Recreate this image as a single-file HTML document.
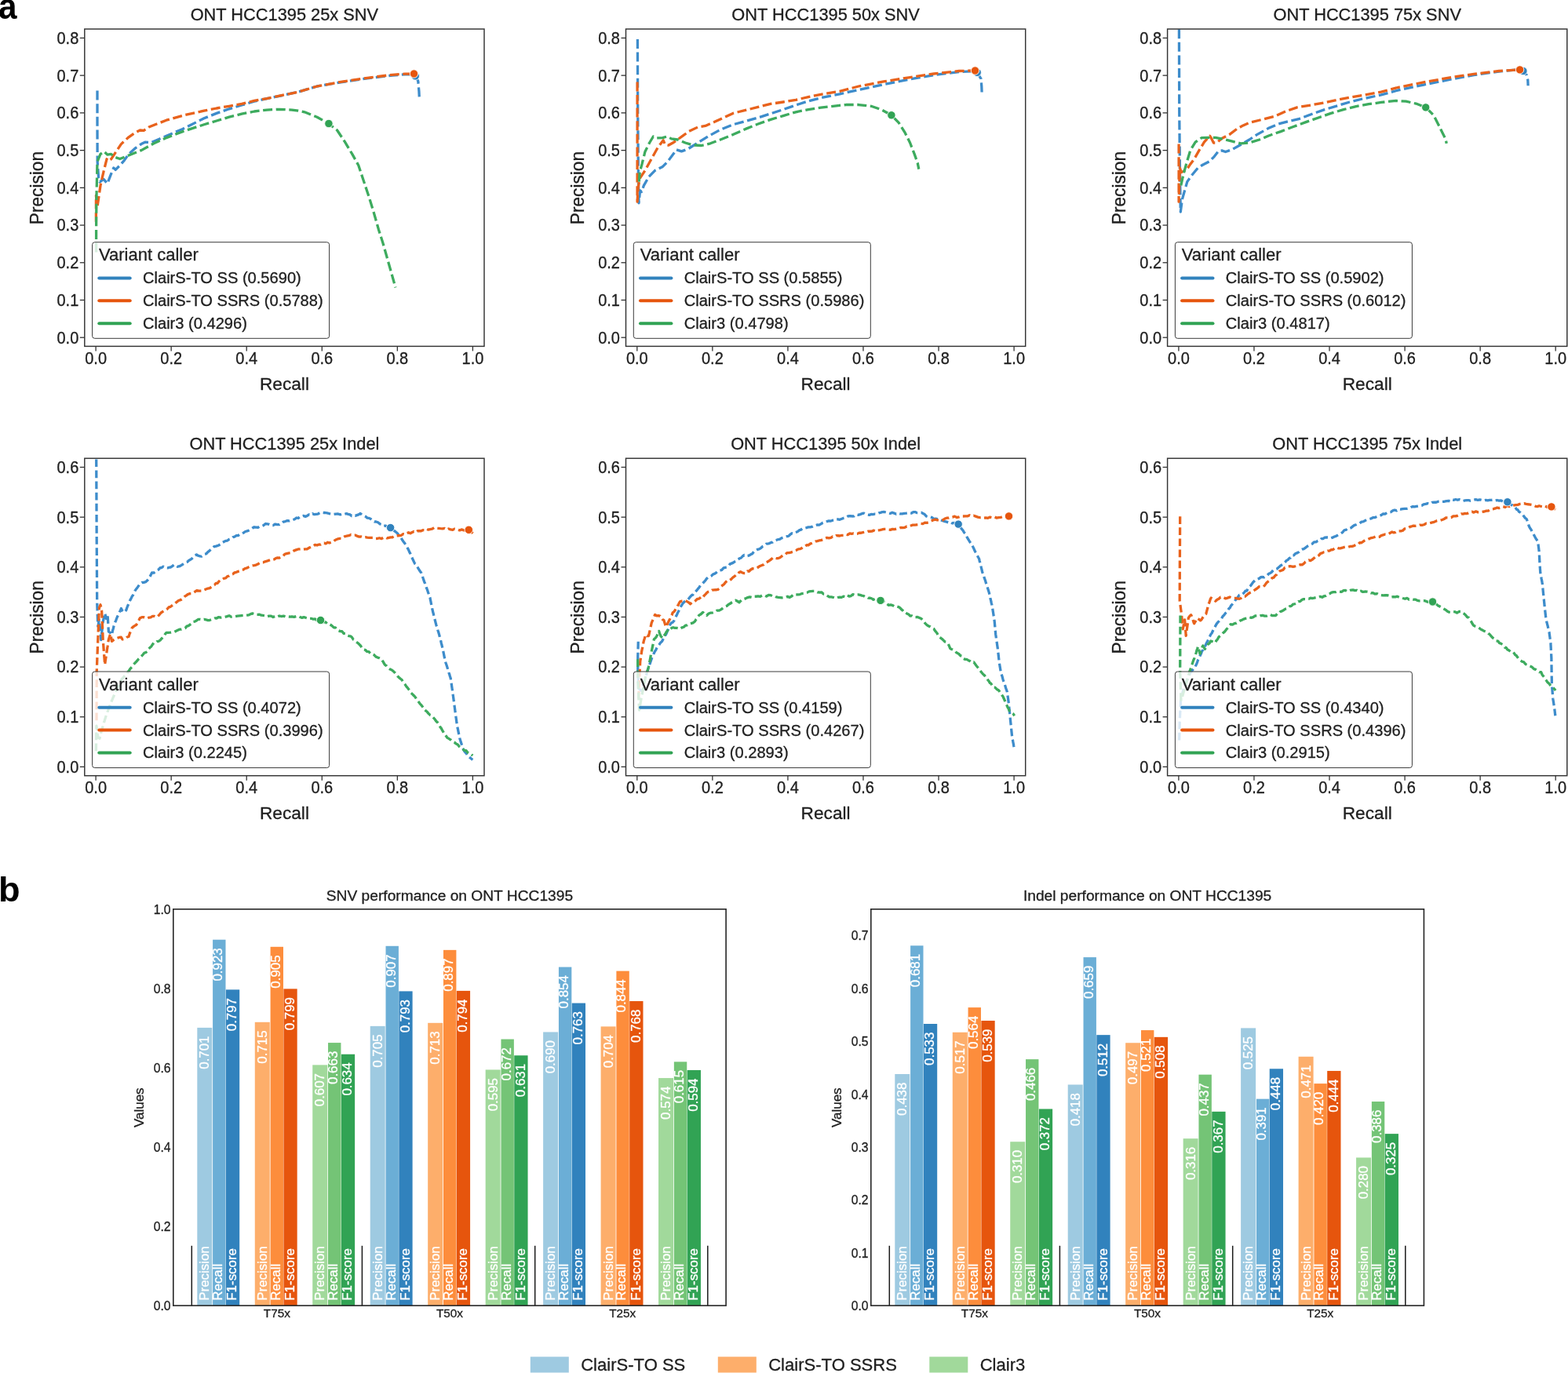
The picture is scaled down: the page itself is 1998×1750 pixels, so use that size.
<!DOCTYPE html>
<html lang="en">
<head>
<meta charset="utf-8">
<title>ClairS-TO ONT HCC1395 benchmark</title>
<style>
html,body{margin:0;padding:0;background:#ffffff;}
body{width:1998px;height:1750px;overflow:hidden;}
svg{display:block;}
text{white-space:pre;}
</style>
</head>
<body>
<svg width="1998" height="1750" viewBox="0 0 1998 1750" font-family='"Liberation Sans", Arial, Helvetica, sans-serif'>
<rect x="0" y="0" width="1998" height="1750" fill="#ffffff"/>
<clipPath id="cl00"><rect x="107.8" y="37" width="509.2" height="404.4"/></clipPath>
<polyline points="124,115.6 124,158 124.16,206 125.6,226.8 127.2,231.92 132,228.4 136.8,234 140.8,223.6 144.8,214 147.2,216.4 152.8,210.8 158.4,204.4 164,196.4 172,189.2 180,183.6 184.8,181.2 192.8,181.68 202.4,177.52 212,173.2 232.8,164.4 260,150.8 276,144.4 292,138.8 308,134 324,129.2 340,125.68 360,121.52 380,117.2 404,110 436,104.56 468,99.92 500,96.08 516,94.8 524,94.8 529.28,96.88 532.8,103.6 533.92,116.4 534.4,126" fill="none" stroke="#3d8ccb" stroke-width="3.3" stroke-dasharray="12.0 4.6" stroke-linejoin="round" clip-path="url(#cl00)"/>
<polyline points="122.4,282.8 122.4,249.2 124,263.6 125.92,250.8 128,236.4 132,218.8 136,202.8 138.4,205.2 141.6,202.8 148,193.2 154.4,183.6 164,174.8 172,169.2 178.4,166 183.2,166.32 189.6,162 212,153.2 236,146.48 260,141.2 276,138 292,135.28 308,132.4 324,128.4 340,125.52 380,117.2 404,110 436,104.08 468,99.28 500,95.28 516,94.16 527.52,94" fill="none" stroke="#e8621c" stroke-width="3.3" stroke-dasharray="12.0 4.6" stroke-linejoin="round" clip-path="url(#cl00)"/>
<polyline points="122.6,321.5 122.6,290 122.88,254 124,206 128,196.4 132.8,193.2 136.8,197.2 141.6,196.4 146.4,200.4 152.8,202.48 164,198 180,191.6 196,182.8 212,175.6 232.8,167.6 260,158.8 276,154 292,149.2 308,145.2 324,142 340,140.08 356,139.28 372,140.08 380,141.2 388,142.8 404,149.2 418.88,157.52 429.6,166 439.2,180.4 448.8,196.4 456.8,210.8 463.2,230 469.6,249.2 476,270 482.4,292.4 488,310 504,366.5" fill="none" stroke="#3dab5e" stroke-width="3.3" stroke-dasharray="12.0 4.6" stroke-linejoin="round" clip-path="url(#cl00)"/>
<circle cx="529.3" cy="96.9" r="5.2" fill="#3182bd" stroke="#ffffff" stroke-width="0.9"/>
<circle cx="527.5" cy="94" r="5.2" fill="#e6550d" stroke="#ffffff" stroke-width="0.9"/>
<circle cx="418.9" cy="157.5" r="5.2" fill="#31a354" stroke="#ffffff" stroke-width="0.9"/>
<rect x="117.6" y="308.7" width="302" height="122.6" rx="3.1" fill="#ffffff" fill-opacity="0.8" stroke="#3a3a3a" stroke-width="1.0"/>
<text font-size="22" text-anchor="start" fill="#202020" stroke="#202020" stroke-width="0.3" stroke-linejoin="round" transform="translate(126 332.2)">Variant caller</text>
<line x1="126.3" y1="354.4" x2="165.7" y2="354.4" stroke="#3182bd" stroke-width="4.0" stroke-linecap="round"/>
<text font-size="20.1" text-anchor="start" fill="#202020" stroke="#202020" stroke-width="0.3" stroke-linejoin="round" transform="translate(182 361.3)">ClairS-TO SS (0.5690)</text>
<line x1="126.3" y1="383.3" x2="165.7" y2="383.3" stroke="#e6550d" stroke-width="4.0" stroke-linecap="round"/>
<text font-size="20.1" text-anchor="start" fill="#202020" stroke="#202020" stroke-width="0.3" stroke-linejoin="round" transform="translate(182 390.2)">ClairS-TO SSRS (0.5788)</text>
<line x1="126.3" y1="412.2" x2="165.7" y2="412.2" stroke="#31a354" stroke-width="4.0" stroke-linecap="round"/>
<text font-size="20.1" text-anchor="start" fill="#202020" stroke="#202020" stroke-width="0.3" stroke-linejoin="round" transform="translate(182 419.1)">Clair3 (0.4296)</text>
<rect x="107.8" y="37" width="509.2" height="404.4" fill="none" stroke="#333333" stroke-width="1.45"/>
<line x1="122.1" y1="441.4" x2="122.1" y2="447.4" stroke="#333333" stroke-width="1.3"/>
<text font-size="20" text-anchor="middle" fill="#202020" stroke="#202020" stroke-width="0.3" stroke-linejoin="round" transform="translate(122.1 463.6) scale(1 1.06)">0.0</text>
<line x1="218.16" y1="441.4" x2="218.16" y2="447.4" stroke="#333333" stroke-width="1.3"/>
<text font-size="20" text-anchor="middle" fill="#202020" stroke="#202020" stroke-width="0.3" stroke-linejoin="round" transform="translate(218.16 463.6) scale(1 1.06)">0.2</text>
<line x1="314.22" y1="441.4" x2="314.22" y2="447.4" stroke="#333333" stroke-width="1.3"/>
<text font-size="20" text-anchor="middle" fill="#202020" stroke="#202020" stroke-width="0.3" stroke-linejoin="round" transform="translate(314.22 463.6) scale(1 1.06)">0.4</text>
<line x1="410.28" y1="441.4" x2="410.28" y2="447.4" stroke="#333333" stroke-width="1.3"/>
<text font-size="20" text-anchor="middle" fill="#202020" stroke="#202020" stroke-width="0.3" stroke-linejoin="round" transform="translate(410.28 463.6) scale(1 1.06)">0.6</text>
<line x1="506.34" y1="441.4" x2="506.34" y2="447.4" stroke="#333333" stroke-width="1.3"/>
<text font-size="20" text-anchor="middle" fill="#202020" stroke="#202020" stroke-width="0.3" stroke-linejoin="round" transform="translate(506.34 463.6) scale(1 1.06)">0.8</text>
<line x1="602.4" y1="441.4" x2="602.4" y2="447.4" stroke="#333333" stroke-width="1.3"/>
<text font-size="20" text-anchor="middle" fill="#202020" stroke="#202020" stroke-width="0.3" stroke-linejoin="round" transform="translate(602.4 463.6) scale(1 1.06)">1.0</text>
<line x1="101.8" y1="430.2" x2="107.8" y2="430.2" stroke="#333333" stroke-width="1.3"/>
<text font-size="20" text-anchor="end" fill="#202020" stroke="#202020" stroke-width="0.3" stroke-linejoin="round" transform="translate(100.3 437.55) scale(1 1.06)">0.0</text>
<line x1="101.8" y1="382.48" x2="107.8" y2="382.48" stroke="#333333" stroke-width="1.3"/>
<text font-size="20" text-anchor="end" fill="#202020" stroke="#202020" stroke-width="0.3" stroke-linejoin="round" transform="translate(100.3 389.83) scale(1 1.06)">0.1</text>
<line x1="101.8" y1="334.76" x2="107.8" y2="334.76" stroke="#333333" stroke-width="1.3"/>
<text font-size="20" text-anchor="end" fill="#202020" stroke="#202020" stroke-width="0.3" stroke-linejoin="round" transform="translate(100.3 342.11) scale(1 1.06)">0.2</text>
<line x1="101.8" y1="287.04" x2="107.8" y2="287.04" stroke="#333333" stroke-width="1.3"/>
<text font-size="20" text-anchor="end" fill="#202020" stroke="#202020" stroke-width="0.3" stroke-linejoin="round" transform="translate(100.3 294.39) scale(1 1.06)">0.3</text>
<line x1="101.8" y1="239.32" x2="107.8" y2="239.32" stroke="#333333" stroke-width="1.3"/>
<text font-size="20" text-anchor="end" fill="#202020" stroke="#202020" stroke-width="0.3" stroke-linejoin="round" transform="translate(100.3 246.67) scale(1 1.06)">0.4</text>
<line x1="101.8" y1="191.6" x2="107.8" y2="191.6" stroke="#333333" stroke-width="1.3"/>
<text font-size="20" text-anchor="end" fill="#202020" stroke="#202020" stroke-width="0.3" stroke-linejoin="round" transform="translate(100.3 198.95) scale(1 1.06)">0.5</text>
<line x1="101.8" y1="143.88" x2="107.8" y2="143.88" stroke="#333333" stroke-width="1.3"/>
<text font-size="20" text-anchor="end" fill="#202020" stroke="#202020" stroke-width="0.3" stroke-linejoin="round" transform="translate(100.3 151.23) scale(1 1.06)">0.6</text>
<line x1="101.8" y1="96.16" x2="107.8" y2="96.16" stroke="#333333" stroke-width="1.3"/>
<text font-size="20" text-anchor="end" fill="#202020" stroke="#202020" stroke-width="0.3" stroke-linejoin="round" transform="translate(100.3 103.51) scale(1 1.06)">0.7</text>
<line x1="101.8" y1="48.44" x2="107.8" y2="48.44" stroke="#333333" stroke-width="1.3"/>
<text font-size="20" text-anchor="end" fill="#202020" stroke="#202020" stroke-width="0.3" stroke-linejoin="round" transform="translate(100.3 55.79) scale(1 1.06)">0.8</text>
<text font-size="21.8" text-anchor="middle" fill="#202020" stroke="#202020" stroke-width="0.3" stroke-linejoin="round" transform="translate(362.4 26.15)">ONT HCC1395 25x SNV</text>
<text font-size="22.7" text-anchor="middle" fill="#202020" stroke="#202020" stroke-width="0.3" stroke-linejoin="round" transform="translate(362.4 496.9)">Recall</text>
<text font-size="22.7" text-anchor="middle" fill="#202020" stroke="#202020" stroke-width="0.3" stroke-linejoin="round" transform="translate(54.5 239.6) rotate(-90) scale(1 1.04)">Precision</text>
<clipPath id="cl01"><rect x="797.5" y="37" width="509.2" height="404.4"/></clipPath>
<polyline points="812.4,50 812.72,142 813.36,222 814,258.8 815.6,242.8 817.52,244.4 820.4,236.4 826.8,225.2 834.8,217.2 844.4,212.4 850.8,206 862,190.8 868.4,192.88 876.4,190 889.2,182 902,174 918,165.2 934,158.8 950,154.48 966,150 982,144.88 998,139.6 1014,134 1030,128.88 1046,124.72 1070,119.92 1094,114.48 1126,107.6 1158,101.2 1190,95.6 1222,91.6 1238,90.8 1245.2,92.4 1250,100.4 1250.8,110 1251.12,118" fill="none" stroke="#3d8ccb" stroke-width="3.3" stroke-dasharray="12.0 4.6" stroke-linejoin="round" clip-path="url(#cl01)"/>
<polyline points="812.08,104.4 812.08,174 812.08,257.2 813.2,238 815.6,226.8 822,217.2 830,202.8 838,188.4 845.2,178.8 847.6,184.4 851.6,185.2 858.8,181.2 870,173.2 878,167.28 889.2,162 898.8,160.4 910,155.6 934,144.4 950,140.4 966,136.4 982,132.4 998,130 1014,127.28 1030,123.6 1046,120.4 1070,116.4 1094,110 1126,103.92 1158,98.8 1190,94 1222,90.48 1242.48,90" fill="none" stroke="#e8621c" stroke-width="3.3" stroke-dasharray="12.0 4.6" stroke-linejoin="round" clip-path="url(#cl01)"/>
<polyline points="814.32,231.6 815.28,218.8 818,209.2 822,193.2 827.6,182 832.4,174 836.4,175.92 844.4,175.6 850,174 855.6,176.88 863.6,178 873.2,182 882.8,184.88 894,185.52 905.2,182.8 918,178 934,171.6 950,164.4 966,158 982,152.4 998,147.6 1014,142.8 1030,139.6 1046,137.2 1070,134.32 1078,133.52 1094,133.52 1110,135.28 1122.8,139.6 1135.92,146.8 1145.2,156.4 1153.2,169.2 1159.6,182 1165.2,196.4 1169.2,207.6 1170.8,215.6" fill="none" stroke="#3dab5e" stroke-width="3.3" stroke-dasharray="12.0 4.6" stroke-linejoin="round" clip-path="url(#cl01)"/>
<circle cx="1245.2" cy="92.4" r="5.2" fill="#3182bd" stroke="#ffffff" stroke-width="0.9"/>
<circle cx="1242.5" cy="90" r="5.2" fill="#e6550d" stroke="#ffffff" stroke-width="0.9"/>
<circle cx="1135.9" cy="146.8" r="5.2" fill="#31a354" stroke="#ffffff" stroke-width="0.9"/>
<rect x="807.3" y="308.7" width="302" height="122.6" rx="3.1" fill="#ffffff" fill-opacity="0.8" stroke="#3a3a3a" stroke-width="1.0"/>
<text font-size="22" text-anchor="start" fill="#202020" stroke="#202020" stroke-width="0.3" stroke-linejoin="round" transform="translate(815.7 332.2)">Variant caller</text>
<line x1="816" y1="354.4" x2="855.4" y2="354.4" stroke="#3182bd" stroke-width="4.0" stroke-linecap="round"/>
<text font-size="20.1" text-anchor="start" fill="#202020" stroke="#202020" stroke-width="0.3" stroke-linejoin="round" transform="translate(871.7 361.3)">ClairS-TO SS (0.5855)</text>
<line x1="816" y1="383.3" x2="855.4" y2="383.3" stroke="#e6550d" stroke-width="4.0" stroke-linecap="round"/>
<text font-size="20.1" text-anchor="start" fill="#202020" stroke="#202020" stroke-width="0.3" stroke-linejoin="round" transform="translate(871.7 390.2)">ClairS-TO SSRS (0.5986)</text>
<line x1="816" y1="412.2" x2="855.4" y2="412.2" stroke="#31a354" stroke-width="4.0" stroke-linecap="round"/>
<text font-size="20.1" text-anchor="start" fill="#202020" stroke="#202020" stroke-width="0.3" stroke-linejoin="round" transform="translate(871.7 419.1)">Clair3 (0.4798)</text>
<rect x="797.5" y="37" width="509.2" height="404.4" fill="none" stroke="#333333" stroke-width="1.45"/>
<line x1="811.8" y1="441.4" x2="811.8" y2="447.4" stroke="#333333" stroke-width="1.3"/>
<text font-size="20" text-anchor="middle" fill="#202020" stroke="#202020" stroke-width="0.3" stroke-linejoin="round" transform="translate(811.8 463.6) scale(1 1.06)">0.0</text>
<line x1="907.86" y1="441.4" x2="907.86" y2="447.4" stroke="#333333" stroke-width="1.3"/>
<text font-size="20" text-anchor="middle" fill="#202020" stroke="#202020" stroke-width="0.3" stroke-linejoin="round" transform="translate(907.86 463.6) scale(1 1.06)">0.2</text>
<line x1="1003.92" y1="441.4" x2="1003.92" y2="447.4" stroke="#333333" stroke-width="1.3"/>
<text font-size="20" text-anchor="middle" fill="#202020" stroke="#202020" stroke-width="0.3" stroke-linejoin="round" transform="translate(1003.92 463.6) scale(1 1.06)">0.4</text>
<line x1="1099.98" y1="441.4" x2="1099.98" y2="447.4" stroke="#333333" stroke-width="1.3"/>
<text font-size="20" text-anchor="middle" fill="#202020" stroke="#202020" stroke-width="0.3" stroke-linejoin="round" transform="translate(1099.98 463.6) scale(1 1.06)">0.6</text>
<line x1="1196.04" y1="441.4" x2="1196.04" y2="447.4" stroke="#333333" stroke-width="1.3"/>
<text font-size="20" text-anchor="middle" fill="#202020" stroke="#202020" stroke-width="0.3" stroke-linejoin="round" transform="translate(1196.04 463.6) scale(1 1.06)">0.8</text>
<line x1="1292.1" y1="441.4" x2="1292.1" y2="447.4" stroke="#333333" stroke-width="1.3"/>
<text font-size="20" text-anchor="middle" fill="#202020" stroke="#202020" stroke-width="0.3" stroke-linejoin="round" transform="translate(1292.1 463.6) scale(1 1.06)">1.0</text>
<line x1="791.5" y1="430.2" x2="797.5" y2="430.2" stroke="#333333" stroke-width="1.3"/>
<text font-size="20" text-anchor="end" fill="#202020" stroke="#202020" stroke-width="0.3" stroke-linejoin="round" transform="translate(790 437.55) scale(1 1.06)">0.0</text>
<line x1="791.5" y1="382.48" x2="797.5" y2="382.48" stroke="#333333" stroke-width="1.3"/>
<text font-size="20" text-anchor="end" fill="#202020" stroke="#202020" stroke-width="0.3" stroke-linejoin="round" transform="translate(790 389.83) scale(1 1.06)">0.1</text>
<line x1="791.5" y1="334.76" x2="797.5" y2="334.76" stroke="#333333" stroke-width="1.3"/>
<text font-size="20" text-anchor="end" fill="#202020" stroke="#202020" stroke-width="0.3" stroke-linejoin="round" transform="translate(790 342.11) scale(1 1.06)">0.2</text>
<line x1="791.5" y1="287.04" x2="797.5" y2="287.04" stroke="#333333" stroke-width="1.3"/>
<text font-size="20" text-anchor="end" fill="#202020" stroke="#202020" stroke-width="0.3" stroke-linejoin="round" transform="translate(790 294.39) scale(1 1.06)">0.3</text>
<line x1="791.5" y1="239.32" x2="797.5" y2="239.32" stroke="#333333" stroke-width="1.3"/>
<text font-size="20" text-anchor="end" fill="#202020" stroke="#202020" stroke-width="0.3" stroke-linejoin="round" transform="translate(790 246.67) scale(1 1.06)">0.4</text>
<line x1="791.5" y1="191.6" x2="797.5" y2="191.6" stroke="#333333" stroke-width="1.3"/>
<text font-size="20" text-anchor="end" fill="#202020" stroke="#202020" stroke-width="0.3" stroke-linejoin="round" transform="translate(790 198.95) scale(1 1.06)">0.5</text>
<line x1="791.5" y1="143.88" x2="797.5" y2="143.88" stroke="#333333" stroke-width="1.3"/>
<text font-size="20" text-anchor="end" fill="#202020" stroke="#202020" stroke-width="0.3" stroke-linejoin="round" transform="translate(790 151.23) scale(1 1.06)">0.6</text>
<line x1="791.5" y1="96.16" x2="797.5" y2="96.16" stroke="#333333" stroke-width="1.3"/>
<text font-size="20" text-anchor="end" fill="#202020" stroke="#202020" stroke-width="0.3" stroke-linejoin="round" transform="translate(790 103.51) scale(1 1.06)">0.7</text>
<line x1="791.5" y1="48.44" x2="797.5" y2="48.44" stroke="#333333" stroke-width="1.3"/>
<text font-size="20" text-anchor="end" fill="#202020" stroke="#202020" stroke-width="0.3" stroke-linejoin="round" transform="translate(790 55.79) scale(1 1.06)">0.8</text>
<text font-size="21.8" text-anchor="middle" fill="#202020" stroke="#202020" stroke-width="0.3" stroke-linejoin="round" transform="translate(1052.1 26.15)">ONT HCC1395 50x SNV</text>
<text font-size="22.7" text-anchor="middle" fill="#202020" stroke="#202020" stroke-width="0.3" stroke-linejoin="round" transform="translate(1052.1 496.9)">Recall</text>
<text font-size="22.7" text-anchor="middle" fill="#202020" stroke="#202020" stroke-width="0.3" stroke-linejoin="round" transform="translate(744.2 239.6) rotate(-90) scale(1 1.04)">Precision</text>
<clipPath id="cl02"><rect x="1487.6" y="37" width="509.2" height="404.4"/></clipPath>
<polyline points="1502.4,37.2 1502.72,142 1503.52,222 1504.32,270 1506.4,254 1509.6,242.8 1512.8,231.6 1518.4,223.6 1526.4,214 1532.8,210 1540.8,206 1547.2,199.6 1552.8,192.4 1556.8,191.92 1561.6,193.52 1569.6,190.8 1582.4,183.6 1592,178 1601.6,171.6 1616,163.6 1628.8,158 1640,155.12 1656,151.28 1672,145.2 1688,139.6 1704,134.8 1720,130 1736,126 1760,120.88 1782,114.8 1814,108.08 1846,101.68 1878,95.6 1910,91.12 1930.8,89.2 1940.88,90.48 1945.2,95.6 1946.8,102 1947.12,109.2" fill="none" stroke="#3d8ccb" stroke-width="3.3" stroke-dasharray="12.0 4.6" stroke-linejoin="round" clip-path="url(#cl02)"/>
<polyline points="1502.08,183.6 1502.08,257.2 1503.36,214 1505.28,219.6 1507.2,218.8 1512,216.4 1516.8,209.2 1521.6,202.8 1528,191.6 1534.4,181.2 1541.6,173.2 1544,177.2 1546.4,182 1550.4,182 1556.8,176.4 1566.4,171.6 1576,164.4 1584,159.92 1592,156.4 1608,152.4 1624,148.4 1640,141.2 1652.8,136.88 1672,133.68 1688,130.8 1704,127.28 1720,124.08 1736,121.52 1760,117.2 1782,111.28 1814,104.88 1846,99.12 1878,94.32 1910,90.48 1936.56,88.88" fill="none" stroke="#e8621c" stroke-width="3.3" stroke-dasharray="12.0 4.6" stroke-linejoin="round" clip-path="url(#cl02)"/>
<polyline points="1504.8,236.4 1508,222 1512,207.6 1516.8,191.6 1523.2,181.2 1531.2,175.6 1539.2,175.28 1548.8,175.28 1560,177.52 1571.2,180.4 1580.8,182.8 1592,182 1604.8,178 1616,173.2 1632,167.6 1648,161.52 1664,155.6 1680,150 1696,144.4 1712,139.6 1728,135.6 1744,132.72 1760,130.48 1778.8,128.4 1791.6,129.2 1804.4,132.08 1816.72,136.88 1826.8,146.8 1833.2,159.6 1838,169.2 1842,177.2 1843.28,182.8" fill="none" stroke="#3dab5e" stroke-width="3.3" stroke-dasharray="12.0 4.6" stroke-linejoin="round" clip-path="url(#cl02)"/>
<circle cx="1940.9" cy="90.5" r="5.2" fill="#3182bd" stroke="#ffffff" stroke-width="0.9"/>
<circle cx="1936.6" cy="88.9" r="5.2" fill="#e6550d" stroke="#ffffff" stroke-width="0.9"/>
<circle cx="1816.7" cy="136.9" r="5.2" fill="#31a354" stroke="#ffffff" stroke-width="0.9"/>
<rect x="1497.4" y="308.7" width="302" height="122.6" rx="3.1" fill="#ffffff" fill-opacity="0.8" stroke="#3a3a3a" stroke-width="1.0"/>
<text font-size="22" text-anchor="start" fill="#202020" stroke="#202020" stroke-width="0.3" stroke-linejoin="round" transform="translate(1505.8 332.2)">Variant caller</text>
<line x1="1506.1" y1="354.4" x2="1545.5" y2="354.4" stroke="#3182bd" stroke-width="4.0" stroke-linecap="round"/>
<text font-size="20.1" text-anchor="start" fill="#202020" stroke="#202020" stroke-width="0.3" stroke-linejoin="round" transform="translate(1561.8 361.3)">ClairS-TO SS (0.5902)</text>
<line x1="1506.1" y1="383.3" x2="1545.5" y2="383.3" stroke="#e6550d" stroke-width="4.0" stroke-linecap="round"/>
<text font-size="20.1" text-anchor="start" fill="#202020" stroke="#202020" stroke-width="0.3" stroke-linejoin="round" transform="translate(1561.8 390.2)">ClairS-TO SSRS (0.6012)</text>
<line x1="1506.1" y1="412.2" x2="1545.5" y2="412.2" stroke="#31a354" stroke-width="4.0" stroke-linecap="round"/>
<text font-size="20.1" text-anchor="start" fill="#202020" stroke="#202020" stroke-width="0.3" stroke-linejoin="round" transform="translate(1561.8 419.1)">Clair3 (0.4817)</text>
<rect x="1487.6" y="37" width="509.2" height="404.4" fill="none" stroke="#333333" stroke-width="1.45"/>
<line x1="1501.9" y1="441.4" x2="1501.9" y2="447.4" stroke="#333333" stroke-width="1.3"/>
<text font-size="20" text-anchor="middle" fill="#202020" stroke="#202020" stroke-width="0.3" stroke-linejoin="round" transform="translate(1501.9 463.6) scale(1 1.06)">0.0</text>
<line x1="1597.96" y1="441.4" x2="1597.96" y2="447.4" stroke="#333333" stroke-width="1.3"/>
<text font-size="20" text-anchor="middle" fill="#202020" stroke="#202020" stroke-width="0.3" stroke-linejoin="round" transform="translate(1597.96 463.6) scale(1 1.06)">0.2</text>
<line x1="1694.02" y1="441.4" x2="1694.02" y2="447.4" stroke="#333333" stroke-width="1.3"/>
<text font-size="20" text-anchor="middle" fill="#202020" stroke="#202020" stroke-width="0.3" stroke-linejoin="round" transform="translate(1694.02 463.6) scale(1 1.06)">0.4</text>
<line x1="1790.08" y1="441.4" x2="1790.08" y2="447.4" stroke="#333333" stroke-width="1.3"/>
<text font-size="20" text-anchor="middle" fill="#202020" stroke="#202020" stroke-width="0.3" stroke-linejoin="round" transform="translate(1790.08 463.6) scale(1 1.06)">0.6</text>
<line x1="1886.14" y1="441.4" x2="1886.14" y2="447.4" stroke="#333333" stroke-width="1.3"/>
<text font-size="20" text-anchor="middle" fill="#202020" stroke="#202020" stroke-width="0.3" stroke-linejoin="round" transform="translate(1886.14 463.6) scale(1 1.06)">0.8</text>
<line x1="1982.2" y1="441.4" x2="1982.2" y2="447.4" stroke="#333333" stroke-width="1.3"/>
<text font-size="20" text-anchor="middle" fill="#202020" stroke="#202020" stroke-width="0.3" stroke-linejoin="round" transform="translate(1982.2 463.6) scale(1 1.06)">1.0</text>
<line x1="1481.6" y1="430.2" x2="1487.6" y2="430.2" stroke="#333333" stroke-width="1.3"/>
<text font-size="20" text-anchor="end" fill="#202020" stroke="#202020" stroke-width="0.3" stroke-linejoin="round" transform="translate(1480.1 437.55) scale(1 1.06)">0.0</text>
<line x1="1481.6" y1="382.48" x2="1487.6" y2="382.48" stroke="#333333" stroke-width="1.3"/>
<text font-size="20" text-anchor="end" fill="#202020" stroke="#202020" stroke-width="0.3" stroke-linejoin="round" transform="translate(1480.1 389.83) scale(1 1.06)">0.1</text>
<line x1="1481.6" y1="334.76" x2="1487.6" y2="334.76" stroke="#333333" stroke-width="1.3"/>
<text font-size="20" text-anchor="end" fill="#202020" stroke="#202020" stroke-width="0.3" stroke-linejoin="round" transform="translate(1480.1 342.11) scale(1 1.06)">0.2</text>
<line x1="1481.6" y1="287.04" x2="1487.6" y2="287.04" stroke="#333333" stroke-width="1.3"/>
<text font-size="20" text-anchor="end" fill="#202020" stroke="#202020" stroke-width="0.3" stroke-linejoin="round" transform="translate(1480.1 294.39) scale(1 1.06)">0.3</text>
<line x1="1481.6" y1="239.32" x2="1487.6" y2="239.32" stroke="#333333" stroke-width="1.3"/>
<text font-size="20" text-anchor="end" fill="#202020" stroke="#202020" stroke-width="0.3" stroke-linejoin="round" transform="translate(1480.1 246.67) scale(1 1.06)">0.4</text>
<line x1="1481.6" y1="191.6" x2="1487.6" y2="191.6" stroke="#333333" stroke-width="1.3"/>
<text font-size="20" text-anchor="end" fill="#202020" stroke="#202020" stroke-width="0.3" stroke-linejoin="round" transform="translate(1480.1 198.95) scale(1 1.06)">0.5</text>
<line x1="1481.6" y1="143.88" x2="1487.6" y2="143.88" stroke="#333333" stroke-width="1.3"/>
<text font-size="20" text-anchor="end" fill="#202020" stroke="#202020" stroke-width="0.3" stroke-linejoin="round" transform="translate(1480.1 151.23) scale(1 1.06)">0.6</text>
<line x1="1481.6" y1="96.16" x2="1487.6" y2="96.16" stroke="#333333" stroke-width="1.3"/>
<text font-size="20" text-anchor="end" fill="#202020" stroke="#202020" stroke-width="0.3" stroke-linejoin="round" transform="translate(1480.1 103.51) scale(1 1.06)">0.7</text>
<line x1="1481.6" y1="48.44" x2="1487.6" y2="48.44" stroke="#333333" stroke-width="1.3"/>
<text font-size="20" text-anchor="end" fill="#202020" stroke="#202020" stroke-width="0.3" stroke-linejoin="round" transform="translate(1480.1 55.79) scale(1 1.06)">0.8</text>
<text font-size="21.8" text-anchor="middle" fill="#202020" stroke="#202020" stroke-width="0.3" stroke-linejoin="round" transform="translate(1742.2 26.15)">ONT HCC1395 75x SNV</text>
<text font-size="22.7" text-anchor="middle" fill="#202020" stroke="#202020" stroke-width="0.3" stroke-linejoin="round" transform="translate(1742.2 496.9)">Recall</text>
<text font-size="22.7" text-anchor="middle" fill="#202020" stroke="#202020" stroke-width="0.3" stroke-linejoin="round" transform="translate(1434.3 239.6) rotate(-90) scale(1 1.04)">Precision</text>
<clipPath id="cl10"><rect x="107.8" y="584.2" width="509.2" height="404.5"/></clipPath>
<polyline points="122.72,585.4 122.73,587.88 122.74,590.35 122.76,592.84 122.77,595.31 122.78,597.79 122.79,600.26 122.8,602.74 122.81,605.22 122.83,607.7 122.84,610.17 122.85,612.66 122.86,615.13 122.87,617.62 122.88,620.1 122.9,622.58 122.91,625.04 122.92,627.52 122.93,630.01 122.94,632.48 122.95,634.96 122.97,637.44 122.98,639.91 122.99,642.39 123,644.87 123.01,647.35 123.02,649.83 123.04,652.31 123.05,654.78 123.06,657.27 123.07,659.75 123.08,662.22 123.09,664.7 123.11,667.17 123.12,669.66 123.13,672.13 123.14,674.61 123.15,677.09 123.16,679.56 123.18,682.04 123.19,684.53 123.2,687.01 123.22,689.49 123.23,692.01 123.25,694.49 123.26,697 123.28,699.5 123.29,701.99 123.31,704.5 123.32,707 123.34,709.49 123.35,711.99 123.37,714.5 123.38,717 123.4,719.5 123.41,721.99 123.43,724.5 123.44,727.01 123.45,729.5 123.47,732 123.48,734.5 123.5,737 123.52,739.5 123.53,741.99 123.55,744.49 123.56,747 123.58,749.5 123.59,751.99 123.61,754.51 123.62,757 123.64,759.5 123.65,762 123.67,764.51 123.68,767 123.77,769.48 123.85,771.88 123.94,774.41 124.02,776.85 124.11,779.29 124.2,781.76 124.28,784.27 124.37,786.74 124.46,789.13 124.54,791.65 124.63,794.06 124.71,796.54 124.8,798.21 125.2,796.54 125.6,794.2 126,791.62 126.4,790.13 126.64,792.02 126.88,794.62 127.12,797.08 127.36,799.56 127.6,802.17 127.84,804.65 128.08,807.32 128.32,809.87 128.56,812.38 128.8,815.5 129.07,812.56 129.33,810.16 129.6,807.51 129.87,805.07 130.13,802.46 130.4,800.04 130.67,797.64 130.93,795.04 131.2,792.71 131.68,790.37 132.16,787.95 132.64,785.68 133.12,783.42 133.6,781.6 134.13,783.39 134.67,785.57 135.2,788.5 136.16,785.02 137.12,782.95 137.26,785.52 137.4,787.93 137.55,790.54 137.69,793.02 137.83,795.47 137.97,797.88 138.12,800.39 138.26,802.87 138.4,805.14 140.4,806.32 142.4,809.24 143.04,806.19 143.68,803.21 144.32,801.18 144.96,798.38 145.6,796.08 146.6,793.24 147.6,791.26 148.6,788.29 149.6,785.91 150.56,784.15 151.52,782.22 152.48,779.87 153.44,778.17 154.4,775.48 156,778.71 157.6,780.49 159.2,779.5 160.8,777.65 161.76,774.74 162.72,772.22 163.68,770.12 164.64,768.04 165.6,765.36 166.88,763.19 168.16,760.34 169.44,758.61 170.72,755.65 172,753.07 173.6,750.68 175.2,748.65 176.8,746.36 178.4,744.08 180.8,742.5 183.2,742.35 185.6,741.63 188,739.57 189.4,737.93 190.8,735.46 192.2,732.76 193.6,729.92 196,730.21 198.4,728.16 200.27,726.67 202.13,725.93 204,723.75 206,723.53 208,722.06 210.8,723.75 213.6,723.89 215.6,723.19 217.6,722.99 219.6,721.66 221.6,719.93 224,720.66 226.4,722.26 228.8,721.71 231.2,720.36 233.12,719.13 235.04,717.9 236.96,716.64 238.88,716.17 240.8,714.16 242.72,713.23 244.64,711.85 246.56,709.72 248.48,708.28 250.4,706.9 252.53,708.25 254.67,708.86 256.8,709.22 258.8,707.56 260.8,706.25 262.8,705.89 264.8,703.64 266.8,702.16 268.8,700.23 270.8,698.75 272.8,696.56 275.47,696.08 278.13,695.22 280.8,693.88 283.04,691.68 285.28,690.51 287.52,689.38 289.76,689.03 292,687.42 294.29,686.78 296.57,684.75 298.86,684.05 301.14,682.57 303.43,682.58 305.71,680.85 308,680.33 310.29,679.12 312.57,677.48 314.86,676.91 317.14,675.91 319.43,674.76 321.71,673.06 324,671.77 326.4,672.06 328.8,672.26 331.2,670.87 333.6,670.63 336,669.55 338.4,667.51 340.8,667.91 343.2,668.33 345.6,669.66 348,669.64 350.67,668.04 353.33,668.71 356,668.7 358.56,667.07 361.12,665.03 363.68,664.58 366.24,663.57 368.8,663.87 371.04,663.16 373.28,662.56 375.52,661.8 377.76,659.99 380,660.5 382.29,658.36 384.57,658.09 386.86,657.43 389.14,658.38 391.43,657.44 393.71,655.81 396,656.43 398.29,654.67 400.57,655.66 402.86,655.28 405.14,655.02 407.43,653.75 409.71,653.22 412,653.48 414.4,653.5 416.8,653.94 419.6,654.51 422.4,654.97 425.2,655.47 428,655.04 430.8,655.02 433.6,655.9 436.4,654.98 439.2,655.26 441.44,654.61 443.68,655.33 445.92,655.92 448.16,657.56 450.4,656.87 452.6,657.37 454.8,656.61 457,655.86 459.2,654.5 461.4,656.34 463.6,657.24 465.8,658.31 468,660.1 470.24,660.35 472.48,661.52 474.72,663.38 476.96,664.89 479.2,665.02 481.6,665.77 484,667.82 486.4,668.44 488.8,670.5 491,670.03 493.2,671.06 495.4,672.33 497.6,672.54 499.36,673.84 501.12,675.54 502.88,676.92 504.64,678.25 506.4,679.71 508,681.91 509.6,684.11 511.2,685.86 512.8,688.52 514.4,690.73 515.68,692.38 516.96,694.33 518.24,696.7 519.52,698.87 520.8,701.34 521.87,703.92 522.93,705.76 524,708.51 525.07,710.79 526.13,713.34 527.2,715.49 528.57,718.37 529.94,719.68 531.31,721.43 532.69,724.02 534.06,726.23 535.43,728.29 536.8,730.16 537.6,732.28 538.4,734.46 539.2,737.31 540,739.63 540.8,741.98 541.6,743.55 542.4,746.07 543.2,748.76 544,750.49 544.8,752.7 545.6,755.21 546.4,757.51 547.2,760.1 548,761.99 548.46,764.66 548.91,766.55 549.37,769.19 549.83,771.55 550.29,773.73 550.74,775.86 551.2,777.94 551.77,780.29 552.34,782.49 552.91,785.29 553.49,787.35 554.06,789.54 554.63,791.78 555.2,794.1 555.89,796.7 556.57,798.62 557.26,800.82 557.94,803.42 558.63,805.5 559.31,807.93 560,810.29 560.57,812.75 561.14,814.72 561.71,816.85 562.29,819.59 562.86,821.72 563.43,824.16 564,826.33 564.46,828.4 564.91,830.75 565.37,833.04 565.83,835.4 566.29,837.6 566.74,839.72 567.2,841.94 567.97,844.79 568.75,847.02 569.52,849.35 570.3,851.89 571.07,854.73 571.85,857.19 572.62,859.32 573.4,861.93 574.17,864.18 574.51,866.74 574.86,869.04 575.2,871.3 575.54,873.77 575.89,876.21 576.23,878.51 576.57,881.05 576.91,883.52 577.26,886.15 577.6,888.51 577.94,891.08 578.29,893.56 578.63,896.18 578.97,898.73 579.31,901.41 579.66,904.07 580,906.7 580.34,909.24 580.69,911.88 581.03,914.36 581.37,916.78 581.71,919.52 582.06,921.94 582.4,924.69 582.89,926.97 583.38,929.14 583.87,931.56 584.36,934.21 584.85,936.45 585.34,938.47 585.83,941.29 586.63,943.69 587.43,946.36 588.23,948.7 589.03,951.28 589.83,953.51 590.63,955.7 592,957.93 593.37,959.41 594.74,960.97 596.11,963.53 598.17,965.1 600.23,966.77 602.29,968.46" fill="none" stroke="#3d8ccb" stroke-width="3.3" stroke-dasharray="9.7 4.4" stroke-linejoin="round" clip-path="url(#cl10)"/>
<polyline points="123.01,918.29 123.02,915.77 123.03,913.26 123.04,910.74 123.05,908.23 123.06,905.72 123.07,903.2 123.08,900.68 123.09,898.17 123.1,895.66 123.11,893.14 123.12,890.63 123.13,888.12 123.14,885.61 123.15,883.09 123.16,880.57 123.17,878.06 123.18,875.54 123.19,873.03 123.2,870.51 123.21,868 123.22,865.49 123.23,862.97 123.24,860.46 123.25,857.94 123.26,855.45 123.35,852.86 123.45,850.42 123.55,847.9 123.64,845.36 123.74,842.83 123.84,840.3 123.93,837.71 124.03,835.2 124.12,832.71 124.22,830.12 124.32,827.66 124.41,825.06 124.51,822.59 124.61,820.1 124.7,817.56 124.8,814.95 124.9,812.48 125,809.98 125.1,807.47 125.2,805.02 125.3,802.46 125.4,800.05 125.5,797.53 125.6,795.02 125.7,792.52 125.8,789.96 125.9,787.49 126,785.03 126.1,782.53 126.2,779.97 126.3,777.46 126.4,774.87 127.2,772.79 128,770.83 128.53,772.87 129.07,775.7 129.6,778.31 129.71,780.62 129.81,783.08 129.92,785.59 130.03,788.06 130.13,790.44 130.24,792.92 130.35,795.33 130.45,797.78 130.56,800.31 130.67,802.75 130.77,805.16 130.88,807.63 130.99,810.03 131.09,812.5 131.2,815.05 131.38,817.55 131.57,819.94 131.75,822.29 131.94,824.86 132.12,827.26 132.31,829.7 132.49,832.31 132.68,834.78 132.86,837.23 133.05,839.53 133.23,842.01 133.42,844.63 133.6,847.2 134,844.42 134.4,841.62 134.8,839.09 135.2,836.45 135.6,833.76 136,830.94 136.4,828.2 136.8,825.57 137.2,823.17 137.6,820.32 138,817.61 138.4,815.17 139.2,812.4 140,809.89 140.8,808.1 141.2,810.05 141.6,812.23 142,814.47 142.4,817.37 144.4,815.83 146.4,814.74 149.07,813.45 151.73,812.48 154.4,812.15 155.2,813.7 156,815.01 158,814.58 160,813.74 162,812 164,811.52 164.96,808.36 165.92,805.9 166.88,803.92 167.84,801.09 168.8,799.59 171.2,797.84 173.6,796.58 174.8,794.48 176,792.05 177.2,790.1 178.4,787.73 180.8,786.64 183.2,786.71 185.2,787.57 187.2,788.15 189.6,787.2 192,786.81 194.4,785.34 196.8,785.44 199.2,786.57 201.12,785.48 203.04,783.57 204.96,781.19 206.88,779.8 208.8,778.49 210.93,777.56 213.07,776.24 215.2,773.89 217.33,773.29 219.47,771.69 221.6,770.21 223.52,768.61 225.44,767.18 227.36,765.51 229.28,764.85 231.2,764.1 233.2,762.86 235.2,760.46 237.2,759.14 239.2,757.64 241.44,756.74 243.68,756.64 245.92,755.68 248.16,754.33 250.4,752.75 252.8,753.01 255.2,753.08 257.6,753.05 260,751.9 262.4,750.97 264.8,750.02 267.2,749.72 269.6,748.05 271.47,746.46 273.33,745.48 275.2,743.4 277.07,743.32 278.93,741.14 280.8,739.3 283.04,738.85 285.28,737.22 287.52,736.97 289.76,734.63 292,734.02 294.29,732.28 296.57,731.76 298.86,729.89 301.14,729.29 303.43,728.35 305.71,727.65 308,726.27 310.29,725.99 312.57,724.49 314.86,723.89 317.14,722.57 319.43,721.52 321.71,720.83 324,720.69 326.29,720.05 328.57,719.01 330.86,717.51 333.14,716.91 335.43,716.84 337.71,715.85 340,715.2 342.29,714.34 344.57,713.49 346.86,713.79 349.14,713.05 351.43,711.53 353.71,710.81 356,711.03 358.29,709.83 360.57,708.77 362.86,706.27 365.14,705.62 367.43,705.04 369.71,704.62 372,703.7 374.67,701.87 377.33,700.85 380,699.97 382.24,699.88 384.48,699.64 386.72,700.27 388.96,699.91 391.2,699.84 393.76,698.28 396.32,697.1 398.88,696.47 401.44,694.41 404,694.99 406.24,694.05 408.48,694 410.72,692.53 412.96,692.14 415.2,692.81 417.44,691.23 419.68,692.03 421.92,691.34 424.16,690.94 426.4,688.93 428.53,687.68 430.67,686.82 432.8,686.32 434.93,686.49 437.07,685.09 439.2,683.76 441.87,683.18 444.53,682.68 447.2,681.5 449.87,682.2 452.53,682.06 455.2,683.33 457.76,684.17 460.32,683.97 462.88,684.87 465.44,684.57 468,685.06 470.56,685.42 473.12,685.37 475.68,685.32 478.24,686.54 480.8,686.37 483.47,685.75 486.13,686.55 488.8,685.15 491.04,684.77 493.28,685.92 495.52,685.42 497.76,684.95 500,684.85 502.29,683.19 504.57,682.98 506.86,682.73 509.14,682.57 511.43,682.27 513.71,680.64 516,681.15 518.29,679.57 520.57,678.75 522.86,679.78 525.14,678.55 527.43,677.47 529.71,678.52 532,676.74 534.29,676.55 536.57,676.84 538.86,675.66 541.14,675.71 543.43,674.01 545.71,675.17 548,674.74 550.67,674.24 553.33,672.51 556,673.33 558.67,673.45 561.33,673.69 564,673.85 566.56,673.45 569.12,675.13 571.68,673.91 574.24,674.96 576.8,675.4 579.04,674.14 581.28,674.75 583.52,675.2 585.76,675.93 588,674.93 590.32,675.66 592.64,676.19 594.96,675.16 597.28,675.93 598.99,676.52 600.69,677.95 602.4,679.8" fill="none" stroke="#e8621c" stroke-width="3.3" stroke-dasharray="9.7 4.4" stroke-linejoin="round" clip-path="url(#cl10)"/>
<polyline points="122.38,957.26 122.42,954.98 122.46,952.63 122.5,950.35 122.54,948.03 122.59,945.74 122.63,943.41 122.66,941.07 122.69,938.71 122.72,936.36 122.75,934 122.79,931.64 122.82,929.3 122.85,926.93 122.88,925.05 123.2,926.85 123.53,929.3 123.85,931.63 124.17,933.79 124.5,936.4 124.82,938.45 125.14,940.36 127.03,941.18 127.66,938.42 128.29,936.1 128.91,933.12 129.54,931 130.17,928.5 130.89,926.22 131.61,923.72 132.33,921.01 133.04,919.32 133.76,916.68 134.48,914.56 135.2,912.35 136.1,909.51 137,907.21 137.89,904.99 138.79,902.48 139.69,900.18 140.59,897.81 141.49,895.67 142.38,893.17 143.28,891.2 144.18,888.95 145.08,887.09 145.98,884.53 146.87,882.63 147.77,880.73 148.85,878.73 149.93,876.46 151,874.35 152.08,872.21 153.16,870.15 154.24,867.59 155.31,865.21 156.82,863.99 158.33,862.04 159.84,860.62 161.35,859.09 162.86,856.83 164.38,854.82 165.9,852.47 167.43,850.84 168.95,849.47 170.48,846.8 172,844.91 173.6,843.53 175.2,841.61 176.8,839.69 178.4,838.3 180,836.47 182,834.61 184,831.99 186,831.57 188,830.01 189.6,827.03 191.2,825.22 192.8,823.93 194.4,821.45 196,819.14 198,819.18 200,817.66 202,817.4 204,816.19 205.6,814.16 207.2,812.69 208.8,811.18 210.4,808.26 212,806.33 214.4,806.3 216.8,806.22 219.2,805.86 221.6,805.61 224,804.41 226.4,803.32 228.8,802.16 231.2,802.1 233.6,801.4 236,800.66 238.06,798.13 240.11,797.66 242.17,796.14 244.23,794.61 246.29,792.42 248.34,792.08 250.4,790.97 252.8,789.4 255.2,789.33 257.6,789.9 260,789.36 262.4,789.79 264.8,790.62 267.04,790.53 269.28,789.7 271.52,788.92 273.76,787.87 276,787.98 278.67,786.56 281.33,787.21 284,786.93 286.67,786.3 289.33,785.64 292,784.69 294.67,786.21 297.33,785.68 300,785.63 302.67,785.08 305.33,784.83 308,784.53 310.29,784.37 312.57,784.33 314.86,784.12 317.14,783.82 319.43,782.63 321.71,781.89 324,782.77 326.24,783.32 328.48,783.34 330.72,783.17 332.96,784.16 335.2,784.46 337.76,784.73 340.32,785.89 342.88,785.06 345.44,785.14 348,786.53 350.67,785.43 353.33,786.26 356,785 358.67,785.59 361.33,785.09 364,786.2 366.67,785.88 369.33,786.15 372,785.8 374.67,786.42 377.33,785.56 380,785.38 382.4,786.54 384.8,787.35 387.2,786.64 389.6,787.28 392,787.83 394.4,788.49 396.75,788.28 399.09,789.2 401.44,788.96 403.79,790.65 406.13,790.39 408.48,790.62 410.62,791.59 412.77,792.96 414.91,792.85 417.06,795.3 419.2,795.29 421.26,796.44 423.31,797.88 425.37,799.84 427.43,799.87 429.49,802.8 431.54,803.83 433.7,804.61 435.85,804.76 438.01,807.37 440.16,807.64 442.32,809.72 444.47,810.56 446.63,810.82 448.46,812.3 450.29,815.21 452.11,816.32 453.94,818.19 455.77,819.36 457.6,821.07 459.43,822.99 461.26,825.94 463.09,827.86 465.37,828.28 467.66,830.44 469.94,830.59 472.23,833.46 474.51,833.67 476.8,834.79 479.03,837.13 481.26,838.06 483.49,838.72 485.71,839.77 486.91,841.81 488.11,843.14 489.31,845.51 490.51,847.35 492.71,848.77 494.9,851.56 497.1,853.08 499.29,853.99 501.49,855.85 503.27,857.49 505.05,859.62 506.83,862.02 508.62,863.68 510.4,865.24 511.91,866.28 513.42,868.97 514.93,870.93 516.43,872.81 517.94,875.06 519.31,876.59 520.69,878.51 522.06,880.22 523.7,883.11 525.35,884.61 526.99,886.26 528.64,887.86 530.29,890.25 531.93,892.89 533.58,894.81 535.22,897.15 536.87,898.66 538.51,900.87 540.43,903.85 542.35,905.81 544.27,907.31 546.19,909.57 548.11,911.44 550.03,912.17 551.95,914.4 553.87,916.5 555.79,919.24 557.71,921.06 558.86,922.81 560,924.19 561.14,927.02 562.29,928.22 563.43,930.65 564.57,932.41 565.94,934.94 567.31,936.67 568.69,938.55 570.06,940.41 572.25,941.65 574.45,943.03 576.64,945.09 578.83,946.08 581.03,947.89 583.22,949.02 585.42,951.78 587.61,953.63 589.81,954.87 592,956.69 594.06,956.64 596.11,959.39 598.17,960.88 600.23,961.17 602.29,962.97" fill="none" stroke="#3dab5e" stroke-width="3.3" stroke-dasharray="9.7 4.4" stroke-linejoin="round" clip-path="url(#cl10)"/>
<circle cx="497.6" cy="672.6" r="5.2" fill="#3182bd" stroke="#ffffff" stroke-width="0.9"/>
<circle cx="597.3" cy="675.3" r="5.2" fill="#e6550d" stroke="#ffffff" stroke-width="0.9"/>
<circle cx="408.5" cy="790.5" r="5.2" fill="#31a354" stroke="#ffffff" stroke-width="0.9"/>
<rect x="117.6" y="856" width="302" height="122.6" rx="3.1" fill="#ffffff" fill-opacity="0.8" stroke="#3a3a3a" stroke-width="1.0"/>
<text font-size="22" text-anchor="start" fill="#202020" stroke="#202020" stroke-width="0.3" stroke-linejoin="round" transform="translate(126 879.5)">Variant caller</text>
<line x1="126.3" y1="901.7" x2="165.7" y2="901.7" stroke="#3182bd" stroke-width="4.0" stroke-linecap="round"/>
<text font-size="20.1" text-anchor="start" fill="#202020" stroke="#202020" stroke-width="0.3" stroke-linejoin="round" transform="translate(182 908.6)">ClairS-TO SS (0.4072)</text>
<line x1="126.3" y1="930.6" x2="165.7" y2="930.6" stroke="#e6550d" stroke-width="4.0" stroke-linecap="round"/>
<text font-size="20.1" text-anchor="start" fill="#202020" stroke="#202020" stroke-width="0.3" stroke-linejoin="round" transform="translate(182 937.5)">ClairS-TO SSRS (0.3996)</text>
<line x1="126.3" y1="959.5" x2="165.7" y2="959.5" stroke="#31a354" stroke-width="4.0" stroke-linecap="round"/>
<text font-size="20.1" text-anchor="start" fill="#202020" stroke="#202020" stroke-width="0.3" stroke-linejoin="round" transform="translate(182 966.4)">Clair3 (0.2245)</text>
<rect x="107.8" y="584.2" width="509.2" height="404.5" fill="none" stroke="#333333" stroke-width="1.45"/>
<line x1="122.1" y1="988.7" x2="122.1" y2="994.7" stroke="#333333" stroke-width="1.3"/>
<text font-size="20" text-anchor="middle" fill="#202020" stroke="#202020" stroke-width="0.3" stroke-linejoin="round" transform="translate(122.1 1010.9) scale(1 1.06)">0.0</text>
<line x1="218.16" y1="988.7" x2="218.16" y2="994.7" stroke="#333333" stroke-width="1.3"/>
<text font-size="20" text-anchor="middle" fill="#202020" stroke="#202020" stroke-width="0.3" stroke-linejoin="round" transform="translate(218.16 1010.9) scale(1 1.06)">0.2</text>
<line x1="314.22" y1="988.7" x2="314.22" y2="994.7" stroke="#333333" stroke-width="1.3"/>
<text font-size="20" text-anchor="middle" fill="#202020" stroke="#202020" stroke-width="0.3" stroke-linejoin="round" transform="translate(314.22 1010.9) scale(1 1.06)">0.4</text>
<line x1="410.28" y1="988.7" x2="410.28" y2="994.7" stroke="#333333" stroke-width="1.3"/>
<text font-size="20" text-anchor="middle" fill="#202020" stroke="#202020" stroke-width="0.3" stroke-linejoin="round" transform="translate(410.28 1010.9) scale(1 1.06)">0.6</text>
<line x1="506.34" y1="988.7" x2="506.34" y2="994.7" stroke="#333333" stroke-width="1.3"/>
<text font-size="20" text-anchor="middle" fill="#202020" stroke="#202020" stroke-width="0.3" stroke-linejoin="round" transform="translate(506.34 1010.9) scale(1 1.06)">0.8</text>
<line x1="602.4" y1="988.7" x2="602.4" y2="994.7" stroke="#333333" stroke-width="1.3"/>
<text font-size="20" text-anchor="middle" fill="#202020" stroke="#202020" stroke-width="0.3" stroke-linejoin="round" transform="translate(602.4 1010.9) scale(1 1.06)">1.0</text>
<line x1="101.8" y1="977.4" x2="107.8" y2="977.4" stroke="#333333" stroke-width="1.3"/>
<text font-size="20" text-anchor="end" fill="#202020" stroke="#202020" stroke-width="0.3" stroke-linejoin="round" transform="translate(100.3 984.75) scale(1 1.06)">0.0</text>
<line x1="101.8" y1="913.75" x2="107.8" y2="913.75" stroke="#333333" stroke-width="1.3"/>
<text font-size="20" text-anchor="end" fill="#202020" stroke="#202020" stroke-width="0.3" stroke-linejoin="round" transform="translate(100.3 921.1) scale(1 1.06)">0.1</text>
<line x1="101.8" y1="850.1" x2="107.8" y2="850.1" stroke="#333333" stroke-width="1.3"/>
<text font-size="20" text-anchor="end" fill="#202020" stroke="#202020" stroke-width="0.3" stroke-linejoin="round" transform="translate(100.3 857.45) scale(1 1.06)">0.2</text>
<line x1="101.8" y1="786.45" x2="107.8" y2="786.45" stroke="#333333" stroke-width="1.3"/>
<text font-size="20" text-anchor="end" fill="#202020" stroke="#202020" stroke-width="0.3" stroke-linejoin="round" transform="translate(100.3 793.8) scale(1 1.06)">0.3</text>
<line x1="101.8" y1="722.8" x2="107.8" y2="722.8" stroke="#333333" stroke-width="1.3"/>
<text font-size="20" text-anchor="end" fill="#202020" stroke="#202020" stroke-width="0.3" stroke-linejoin="round" transform="translate(100.3 730.15) scale(1 1.06)">0.4</text>
<line x1="101.8" y1="659.15" x2="107.8" y2="659.15" stroke="#333333" stroke-width="1.3"/>
<text font-size="20" text-anchor="end" fill="#202020" stroke="#202020" stroke-width="0.3" stroke-linejoin="round" transform="translate(100.3 666.5) scale(1 1.06)">0.5</text>
<line x1="101.8" y1="595.5" x2="107.8" y2="595.5" stroke="#333333" stroke-width="1.3"/>
<text font-size="20" text-anchor="end" fill="#202020" stroke="#202020" stroke-width="0.3" stroke-linejoin="round" transform="translate(100.3 602.85) scale(1 1.06)">0.6</text>
<text font-size="21.8" text-anchor="middle" fill="#202020" stroke="#202020" stroke-width="0.3" stroke-linejoin="round" transform="translate(362.4 573.35)">ONT HCC1395 25x Indel</text>
<text font-size="22.7" text-anchor="middle" fill="#202020" stroke="#202020" stroke-width="0.3" stroke-linejoin="round" transform="translate(362.4 1044.2)">Recall</text>
<text font-size="22.7" text-anchor="middle" fill="#202020" stroke="#202020" stroke-width="0.3" stroke-linejoin="round" transform="translate(54.5 786.85) rotate(-90) scale(1 1.04)">Precision</text>
<clipPath id="cl11"><rect x="797.5" y="584.2" width="509.2" height="404.5"/></clipPath>
<polyline points="813.26,817.71 813.19,820.07 813.13,822.46 813.07,824.79 813.01,827.16 812.94,829.5 812.88,831.83 812.82,834.24 812.75,836.58 812.75,838.93 812.75,841.29 812.75,843.64 812.75,846 812.75,848.36 812.75,850.71 812.75,853.07 812.75,855.43 812.88,857.97 813.01,860.41 813.13,862.91 813.26,865.44 813.38,868.05 813.51,870.49 813.63,873 813.76,875.49 813.89,877.55 817.03,880.16 817.91,876.46 818.79,874.65 819.67,871.81 820.55,869.07 821.43,866.4 822.15,864.67 822.87,862 823.58,860.04 824.3,857.1 825.02,855.27 825.74,852.84 826.46,850.62 827.3,848.09 828.13,845.96 828.97,843.44 829.81,840.98 830.65,838.59 831.49,836.55 832.53,834.7 833.58,831.92 834.63,829.95 835.68,828.59 836.72,826.13 837.77,824.06 839.66,822.05 841.54,819.33 843.43,817.64 844.58,815.46 845.74,813.65 846.89,811.28 848.05,809.3 849.2,807.39 850.16,804.75 851.12,802.78 852.08,800.34 853.04,798.44 854,795.77 855.6,793.84 857.2,793.25 858.8,791.29 860,788.26 861.2,786.06 862.4,783.79 863.6,780.97 864.67,779 865.73,776.76 866.8,774.63 867.87,772.47 868.93,771.07 870,769.05 872.13,766.99 874.27,765.13 876.4,764.4 878,762.59 879.6,760.51 881.2,758.8 882.8,758.12 884.4,755.1 886,754.46 887.6,752.71 889.2,750.71 890.8,748.9 892.4,746.36 894,744.86 895.6,743.25 897.2,741.67 898.8,739.95 900.4,737.5 902.4,735.81 904.4,735.4 906.4,734.19 908.4,732.1 910.53,731.29 912.67,729.81 914.8,727.68 917.2,726.95 919.6,726.61 922,723.96 924.4,723.28 926.32,722.87 928.24,721.7 930.16,718.83 932.08,718.13 934,717.4 936.13,715.94 938.27,715.12 940.4,712.93 942.4,711.81 944.4,711.02 946.4,708.77 948.4,707.51 950.53,708.53 952.67,708.53 954.8,707.86 956.8,706.61 958.8,705.65 960.8,702.77 962.8,701.66 965.04,700.44 967.28,699.91 969.52,698.56 971.76,696.48 974,695.57 976.67,693.06 979.33,692.93 982,691.71 984.29,691.19 986.57,689.26 988.86,688.56 991.14,687.73 993.43,687.44 995.71,685.84 998,685.24 1000.24,684.57 1002.48,683.69 1004.72,683.38 1006.96,681.2 1009.2,679.76 1011.49,680.22 1013.77,678.54 1016.06,677.8 1018.34,675.92 1020.63,675.08 1022.91,673.28 1025.2,673.08 1027.6,672.54 1030,671.9 1032.4,671.82 1034.8,671.35 1037.04,669.91 1039.28,669.68 1041.52,668.93 1043.76,669.19 1046,667.81 1048.56,666.28 1051.12,665.86 1053.68,664.67 1056.24,663.94 1058.8,664.03 1061.04,663.23 1063.28,662.95 1065.52,661.71 1067.76,661.85 1070,662.29 1072.67,661.31 1075.33,660.14 1078,659.8 1080.56,657.95 1083.12,657.61 1085.68,657.99 1088.24,657.87 1090.8,655.8 1093.47,656.33 1096.13,655.63 1098.8,654.51 1101.04,654.22 1103.28,655.36 1105.52,656.06 1107.76,656.39 1110,655.45 1112.4,655.54 1114.8,655.09 1117.2,655.21 1119.6,653.83 1122,653.42 1124.4,652.55 1126.8,652.49 1129.2,653.1 1131.76,653.72 1134.32,654.45 1136.88,653.23 1139.44,654.15 1142,655.16 1144.56,654.1 1147.12,654.81 1149.68,654.9 1152.24,654.48 1154.8,654.22 1157.04,653.69 1159.28,653.65 1161.52,654.03 1163.76,652.68 1166,652.55 1168.67,653.71 1171.33,653.6 1174,653.36 1176.13,654.39 1178.27,655.72 1180.4,658.03 1182.8,658.88 1185.2,658.83 1187.6,659.6 1190,661.49 1192.4,661.08 1194.8,661.62 1197.2,662.47 1199.6,663.26 1201.84,663.82 1204.08,664.61 1206.32,665.18 1208.56,665.94 1210.8,665.22 1213.4,667.01 1216,666.46 1218.6,667.67 1221.2,668.98 1222.67,670.1 1224.13,672.59 1225.6,674.46 1227.07,676.08 1228.53,678.6 1230,680.12 1231.37,683.23 1232.74,685.61 1234.11,687.88 1235.49,690.28 1236.86,691.99 1238.23,693.8 1239.6,696.65 1240.74,698.92 1241.89,701.62 1243.03,703.76 1244.17,705.77 1245.31,707.96 1246.46,710.26 1247.6,712.23 1248.17,714.92 1248.74,717.09 1249.31,719.62 1249.89,721.49 1250.46,723.97 1251.03,726.07 1251.6,728.92 1252.4,730.93 1253.2,733.17 1254,735.86 1254.8,738.01 1255.6,740.3 1256.4,743.18 1257.2,745.88 1258,747.78 1258.8,750.49 1259.6,753.03 1260.4,755.64 1260.97,758.26 1261.54,760.58 1262.11,763.54 1262.69,765.63 1263.26,768.56 1263.83,770.69 1264.4,773.58 1264.79,775.89 1265.18,778.53 1265.57,781.02 1265.95,783.46 1266.34,785.96 1266.73,788.63 1267.12,791.1 1267.35,793.43 1267.58,796.14 1267.81,798.5 1268.03,801.05 1268.26,803.6 1268.49,806.16 1268.72,808.51 1269.09,811.11 1269.45,813.76 1269.82,816.11 1270.18,818.63 1270.55,821.16 1270.91,823.84 1271.28,826.35 1271.55,828.79 1271.83,831.28 1272.1,833.73 1272.38,836.24 1272.65,838.86 1272.93,841.27 1273.2,843.93 1273.59,846.34 1273.98,848.8 1274.37,851.09 1274.75,853.5 1275.14,856.07 1275.83,858.41 1276.51,860.54 1277.2,862.79 1277.89,865.44 1278.57,867.69 1279.26,869.37 1280.08,871.95 1280.9,874.31 1281.73,877.41 1282.55,879.37 1283.37,882.04 1283.71,884.64 1284.06,887.06 1284.4,889.49 1284.74,892.03 1285.09,894.59 1285.43,897.04 1285.69,899.68 1285.94,902.29 1286.2,904.78 1286.46,907.52 1286.71,910.04 1286.97,912.62 1287.23,915.04 1287.49,917.75 1287.74,920.32 1288,922.74 1288.26,925.46 1288.51,927.93 1288.77,930.58 1289.03,933.15 1289.29,935.67 1289.54,938.17 1290,940.95 1290.46,943.23 1290.91,945.89 1291.37,948.24 1291.83,951.05 1292.29,953.37" fill="none" stroke="#3d8ccb" stroke-width="3.3" stroke-dasharray="9.7 4.4" stroke-linejoin="round" clip-path="url(#cl11)"/>
<polyline points="813.63,890.63 813.75,888.13 813.86,885.56 813.97,883.08 814.08,880.61 814.19,878.1 814.3,875.54 814.42,873.04 814.53,870.55 814.64,867.99 814.74,865.45 814.84,863 814.94,860.44 815.04,857.9 815.14,855.48 815.27,852.86 815.39,850.46 815.52,847.87 815.65,845.36 815.77,842.95 816.15,840.49 816.53,837.87 816.9,835.15 817.28,832.67 817.66,830.3 818.16,827.66 818.66,825.47 819.17,822.61 819.67,820.22 820.17,817.59 820.8,815.33 821.43,813.55 822.06,811.22 822.69,808.95 824.57,810.65 826.46,810.49 827,808.49 827.53,805.95 828.07,803.71 828.61,801.17 829.15,798.88 829.69,796.38 830.23,793.93 831.11,791.88 831.99,789.76 832.87,787.62 833.75,785.44 834.63,783.42 836.82,784.9 839.01,784.61 841.2,785.39 842.8,787.89 844.4,789.8 846,790.6 846.8,793.61 847.6,796.09 848.4,799.08 849.4,797.45 850.4,795.18 851.4,793.25 852.4,791.2 853.6,788.89 854.8,785.72 856,784.17 857.2,780.91 858.8,779.76 860.4,777.49 862,774.85 863.2,772.4 864.4,770.95 865.6,768.16 866.8,766.64 868.93,766.13 871.07,766.21 873.2,765.58 875.33,766.63 877.47,767.83 879.6,769.8 881.73,767.74 883.87,767.54 886,765.92 888.4,763.49 890.8,763.07 893.2,761.04 895.6,762.04 897.2,759.16 898.8,757.56 900.4,755.87 902,754.5 904.67,754.19 907.33,752.03 910,751.78 912.4,751.77 914.8,751.45 916.72,749.84 918.64,747.53 920.56,746.14 922.48,744.74 924.4,742.19 926.8,739.99 929.2,740.14 931.6,738.37 934,735.93 935.92,734.68 937.84,732.85 939.76,732.57 941.68,729.69 943.6,728.64 946,729.98 948.4,730.7 950.4,730.69 952.4,727.94 954.4,728.25 956.4,726.24 958.8,724.77 961.2,724.87 963.6,724.54 966,722.99 968.4,721.46 970.8,720.56 973.2,719.62 975.6,717.09 977.52,716.27 979.44,715.24 981.36,713.89 983.28,712.36 985.2,710.49 987.33,711.21 989.47,711.69 991.6,711.55 993.84,710.71 996.08,708.98 998.32,707.33 1000.56,706.92 1002.8,704.66 1005.2,704.68 1007.6,704.09 1010,703.43 1012.4,701.87 1014.8,701.23 1017.2,699.83 1019.33,699.7 1021.47,698.69 1023.6,696.63 1025.73,696.21 1027.87,694.77 1030,694.89 1032.29,693.16 1034.57,692.3 1036.86,691.3 1039.14,690.07 1041.43,689.65 1043.71,688.96 1046,688.69 1048.56,687.77 1051.12,686.21 1053.68,685.36 1056.24,685.8 1058.8,685.32 1061.04,683.89 1063.28,684.29 1065.52,682.64 1067.76,682.76 1070,683.01 1072.56,682.28 1075.12,682.28 1077.68,681.02 1080.24,681.71 1082.8,679.87 1085.2,680.27 1087.6,679.96 1090,680.58 1092.4,680.37 1094.8,679.08 1097.2,679.25 1099.49,678.62 1101.77,678.14 1104.06,677.97 1106.34,677.1 1108.63,677.27 1110.91,677.14 1113.2,676.12 1115.87,677.19 1118.53,675.82 1121.2,675.58 1123.87,674.99 1126.53,674.47 1129.2,674.45 1131.87,675.07 1134.53,675.33 1137.2,674.4 1139.87,674.71 1142.53,674.05 1145.2,673.57 1147.76,672.43 1150.32,672.67 1152.88,672.32 1155.44,671.02 1158,670.99 1160.56,669.99 1163.12,669.17 1165.68,669.19 1168.24,668.76 1170.8,668.35 1173.36,667.38 1175.92,667.61 1178.48,666.14 1181.04,666.28 1183.6,665.65 1186.27,664.04 1188.93,663.04 1191.6,662.15 1194.27,662.81 1196.93,662.93 1199.6,663.3 1201.84,662.67 1204.08,661.04 1206.32,660.22 1208.56,660.14 1210.8,659.43 1213.6,659.25 1216.4,658.11 1219.2,659.53 1222,658.95 1224.67,657.92 1227.33,657.98 1230,657.81 1232.67,657.88 1235.33,656.65 1238,657.77 1240.67,657.25 1243.33,658.16 1246,659.14 1248.56,659.63 1251.12,659.38 1253.68,660.21 1256.24,659.97 1258.8,660.29 1261.6,659.14 1264.4,659.8 1267.2,658.89 1270,660.12 1272.59,659.53 1275.17,659.47 1277.76,658.39 1280.35,658.63 1282.93,658.26 1285.52,657.25 1287.28,659.08 1289.04,660.97 1290.8,661.4" fill="none" stroke="#e8621c" stroke-width="3.3" stroke-dasharray="9.7 4.4" stroke-linejoin="round" clip-path="url(#cl11)"/>
<polyline points="812.63,840.34 812.65,842.85 812.67,845.38 812.7,847.88 812.72,850.4 812.74,852.93 812.77,855.43 812.79,857.94 812.81,860.47 812.83,862.98 812.86,865.49 812.88,867.96 812.99,870.56 813.1,873.01 813.21,875.5 813.32,878.11 813.42,880.58 813.53,883.08 813.64,885.63 813.75,888.08 813.86,890.62 813.97,893.18 814.08,895.62 814.19,898.13 814.3,900.63 814.41,903.15 814.51,904.99 814.93,903.34 815.35,900.64 815.77,898.18 816.19,895.57 816.61,893.31 817.03,890.5 817.5,888.32 817.97,885.66 818.44,883.41 818.91,881.21 819.39,878.74 819.86,876.16 820.33,873.65 820.8,871.36 821.27,869.09 821.74,866.68 822.21,864.29 822.69,861.42 823.44,859.19 824.19,857.32 824.95,855.07 825.7,852.77 826.46,850.22 826.93,847.71 827.4,845.3 827.87,842.77 828.34,840.5 828.81,837.98 829.29,835.27 829.76,832.96 830.23,830.41 830.75,827.78 831.28,825.16 831.8,822.94 832.32,820.26 832.85,817.84 833.37,814.78 834.94,813.37 836.51,811.44 837.56,809.04 838.61,807.2 839.66,804.36 840.5,807.1 841.33,809.29 842.17,811.08 844.69,813.47 845.73,811.51 846.78,809.51 847.83,807.96 849.09,805.44 850.34,804.23 851.6,801.39 853.7,802.15 855.79,800.39 857.89,799.72 860.09,800.45 862.29,800.3 864.49,800.69 866.69,801.56 868.95,799.92 871.21,799.27 873.47,797.1 875.74,796.78 878,795.17 880.51,794.55 883.03,793.86 885.54,791.98 886.86,789.56 888.17,788.01 889.49,786.19 890.8,784.12 893.2,782.79 895.6,780.39 898,782.78 900.4,784.5 903.07,781.99 905.73,781.04 908.4,780.78 911.07,779.87 913.73,778.04 916.4,778.15 918.8,776.87 921.2,774.93 923.6,773.23 926,772.43 928.24,770.43 930.48,769.35 932.72,767.62 934.96,766.26 937.2,765.09 939.6,766.24 942,767.74 944,765.7 946,763.84 948,763.53 950,762.89 952.67,761.57 955.33,760.81 958,761.56 960.67,760.2 963.33,760.25 966,759.86 968.67,760.32 971.33,758.77 974,758.7 976.67,760.03 979.33,758.29 982,758.6 984.4,759.85 986.8,759.73 989.2,760.97 991.6,761.43 994,761.55 996.4,761.82 998.8,761.41 1001.2,761.06 1003.6,760.22 1006,761.41 1008.67,760.07 1011.33,757.57 1014,757.94 1016.67,757.94 1019.33,757.53 1022,756.57 1024.24,756.44 1026.48,755.55 1028.72,755.11 1030.96,753.91 1033.2,753.55 1036,753.31 1038.8,753.32 1041.6,754.81 1044.4,755.02 1046.8,754.8 1049.2,756.99 1051.6,757.15 1054,759.13 1056.67,760.79 1059.33,760.81 1062,761.48 1064.67,762.5 1067.33,761.6 1070,761.16 1072.4,761.35 1074.8,760.13 1077.2,760.87 1079.6,758.75 1082,760.05 1084.4,759.57 1086.8,757.63 1089.2,758.68 1091.44,758 1093.68,757.9 1095.92,758.26 1098.16,759.08 1100.4,759.5 1102.4,760.68 1104.4,760.68 1106.4,762.16 1108.4,762.23 1110.67,762.74 1112.93,764.31 1115.2,763.39 1117.47,764.98 1119.73,765.23 1122,764.83 1124.08,766.93 1126.16,766.94 1128.24,769.25 1130.32,769.5 1132.4,771.44 1134.96,770.88 1137.52,771.55 1140.08,773.19 1142.64,772.88 1145.2,773.72 1146.96,774.93 1148.72,776.86 1150.48,778.33 1152.24,780.61 1154,780.76 1155.87,782.22 1157.73,782.92 1159.6,785 1162,784.95 1164.4,786.54 1166.8,786.64 1169.2,786.45 1171.6,787.46 1174,788.47 1175.6,790.36 1177.2,792.03 1178.8,794.41 1181.04,796.61 1183.28,798.01 1185.52,798.88 1187.76,800.49 1190,801.57 1191.39,803.86 1192.78,805.59 1194.17,807.27 1195.56,809.98 1196.95,811.85 1198.34,812.98 1200.26,814.29 1202.18,816.14 1204.1,817.96 1206.02,818.31 1207.94,820.19 1209.31,823.01 1210.69,826.47 1212.61,827.46 1214.53,828.28 1216.45,829.37 1218.37,831.47 1220.29,832.59 1222,833.64 1223.71,835.61 1225.43,836.1 1227.14,839.01 1229.43,840.28 1231.71,840.36 1234,841.67 1236.29,842.74 1238.57,844.55 1240.86,843.97 1242.57,846.39 1244.29,848.75 1246,850.8 1247.71,853.35 1249.43,855.37 1251.14,857.47 1252.86,859.54 1254.57,860.86 1255.94,863.2 1257.31,864.45 1258.69,866.48 1260.06,868.21 1261.43,870.54 1262.8,871.23 1264.17,873.58 1265.54,875.98 1267.83,876.18 1270.11,878.45 1272.4,879.68 1273.77,881.53 1275.14,883.72 1276.51,885.64 1277.89,887.45 1278.91,889.74 1279.94,891.94 1280.97,894.75 1282,897.45 1283.03,899.17 1284.06,901.54 1285.09,903.27 1286.11,905.87 1287.76,906.88 1289.41,908.72 1291.05,909.9 1292.7,912.23" fill="none" stroke="#3dab5e" stroke-width="3.3" stroke-dasharray="9.7 4.4" stroke-linejoin="round" clip-path="url(#cl11)"/>
<circle cx="1221.2" cy="668.1" r="5.2" fill="#3182bd" stroke="#ffffff" stroke-width="0.9"/>
<circle cx="1285.5" cy="657.9" r="5.2" fill="#e6550d" stroke="#ffffff" stroke-width="0.9"/>
<circle cx="1122" cy="765.4" r="5.2" fill="#31a354" stroke="#ffffff" stroke-width="0.9"/>
<rect x="807.3" y="856" width="302" height="122.6" rx="3.1" fill="#ffffff" fill-opacity="0.8" stroke="#3a3a3a" stroke-width="1.0"/>
<text font-size="22" text-anchor="start" fill="#202020" stroke="#202020" stroke-width="0.3" stroke-linejoin="round" transform="translate(815.7 879.5)">Variant caller</text>
<line x1="816" y1="901.7" x2="855.4" y2="901.7" stroke="#3182bd" stroke-width="4.0" stroke-linecap="round"/>
<text font-size="20.1" text-anchor="start" fill="#202020" stroke="#202020" stroke-width="0.3" stroke-linejoin="round" transform="translate(871.7 908.6)">ClairS-TO SS (0.4159)</text>
<line x1="816" y1="930.6" x2="855.4" y2="930.6" stroke="#e6550d" stroke-width="4.0" stroke-linecap="round"/>
<text font-size="20.1" text-anchor="start" fill="#202020" stroke="#202020" stroke-width="0.3" stroke-linejoin="round" transform="translate(871.7 937.5)">ClairS-TO SSRS (0.4267)</text>
<line x1="816" y1="959.5" x2="855.4" y2="959.5" stroke="#31a354" stroke-width="4.0" stroke-linecap="round"/>
<text font-size="20.1" text-anchor="start" fill="#202020" stroke="#202020" stroke-width="0.3" stroke-linejoin="round" transform="translate(871.7 966.4)">Clair3 (0.2893)</text>
<rect x="797.5" y="584.2" width="509.2" height="404.5" fill="none" stroke="#333333" stroke-width="1.45"/>
<line x1="811.8" y1="988.7" x2="811.8" y2="994.7" stroke="#333333" stroke-width="1.3"/>
<text font-size="20" text-anchor="middle" fill="#202020" stroke="#202020" stroke-width="0.3" stroke-linejoin="round" transform="translate(811.8 1010.9) scale(1 1.06)">0.0</text>
<line x1="907.86" y1="988.7" x2="907.86" y2="994.7" stroke="#333333" stroke-width="1.3"/>
<text font-size="20" text-anchor="middle" fill="#202020" stroke="#202020" stroke-width="0.3" stroke-linejoin="round" transform="translate(907.86 1010.9) scale(1 1.06)">0.2</text>
<line x1="1003.92" y1="988.7" x2="1003.92" y2="994.7" stroke="#333333" stroke-width="1.3"/>
<text font-size="20" text-anchor="middle" fill="#202020" stroke="#202020" stroke-width="0.3" stroke-linejoin="round" transform="translate(1003.92 1010.9) scale(1 1.06)">0.4</text>
<line x1="1099.98" y1="988.7" x2="1099.98" y2="994.7" stroke="#333333" stroke-width="1.3"/>
<text font-size="20" text-anchor="middle" fill="#202020" stroke="#202020" stroke-width="0.3" stroke-linejoin="round" transform="translate(1099.98 1010.9) scale(1 1.06)">0.6</text>
<line x1="1196.04" y1="988.7" x2="1196.04" y2="994.7" stroke="#333333" stroke-width="1.3"/>
<text font-size="20" text-anchor="middle" fill="#202020" stroke="#202020" stroke-width="0.3" stroke-linejoin="round" transform="translate(1196.04 1010.9) scale(1 1.06)">0.8</text>
<line x1="1292.1" y1="988.7" x2="1292.1" y2="994.7" stroke="#333333" stroke-width="1.3"/>
<text font-size="20" text-anchor="middle" fill="#202020" stroke="#202020" stroke-width="0.3" stroke-linejoin="round" transform="translate(1292.1 1010.9) scale(1 1.06)">1.0</text>
<line x1="791.5" y1="977.4" x2="797.5" y2="977.4" stroke="#333333" stroke-width="1.3"/>
<text font-size="20" text-anchor="end" fill="#202020" stroke="#202020" stroke-width="0.3" stroke-linejoin="round" transform="translate(790 984.75) scale(1 1.06)">0.0</text>
<line x1="791.5" y1="913.75" x2="797.5" y2="913.75" stroke="#333333" stroke-width="1.3"/>
<text font-size="20" text-anchor="end" fill="#202020" stroke="#202020" stroke-width="0.3" stroke-linejoin="round" transform="translate(790 921.1) scale(1 1.06)">0.1</text>
<line x1="791.5" y1="850.1" x2="797.5" y2="850.1" stroke="#333333" stroke-width="1.3"/>
<text font-size="20" text-anchor="end" fill="#202020" stroke="#202020" stroke-width="0.3" stroke-linejoin="round" transform="translate(790 857.45) scale(1 1.06)">0.2</text>
<line x1="791.5" y1="786.45" x2="797.5" y2="786.45" stroke="#333333" stroke-width="1.3"/>
<text font-size="20" text-anchor="end" fill="#202020" stroke="#202020" stroke-width="0.3" stroke-linejoin="round" transform="translate(790 793.8) scale(1 1.06)">0.3</text>
<line x1="791.5" y1="722.8" x2="797.5" y2="722.8" stroke="#333333" stroke-width="1.3"/>
<text font-size="20" text-anchor="end" fill="#202020" stroke="#202020" stroke-width="0.3" stroke-linejoin="round" transform="translate(790 730.15) scale(1 1.06)">0.4</text>
<line x1="791.5" y1="659.15" x2="797.5" y2="659.15" stroke="#333333" stroke-width="1.3"/>
<text font-size="20" text-anchor="end" fill="#202020" stroke="#202020" stroke-width="0.3" stroke-linejoin="round" transform="translate(790 666.5) scale(1 1.06)">0.5</text>
<line x1="791.5" y1="595.5" x2="797.5" y2="595.5" stroke="#333333" stroke-width="1.3"/>
<text font-size="20" text-anchor="end" fill="#202020" stroke="#202020" stroke-width="0.3" stroke-linejoin="round" transform="translate(790 602.85) scale(1 1.06)">0.6</text>
<text font-size="21.8" text-anchor="middle" fill="#202020" stroke="#202020" stroke-width="0.3" stroke-linejoin="round" transform="translate(1052.1 573.35)">ONT HCC1395 50x Indel</text>
<text font-size="22.7" text-anchor="middle" fill="#202020" stroke="#202020" stroke-width="0.3" stroke-linejoin="round" transform="translate(1052.1 1044.2)">Recall</text>
<text font-size="22.7" text-anchor="middle" fill="#202020" stroke="#202020" stroke-width="0.3" stroke-linejoin="round" transform="translate(744.2 786.85) rotate(-90) scale(1 1.04)">Precision</text>
<clipPath id="cl12"><rect x="1487.6" y="584.2" width="509.2" height="404.5"/></clipPath>
<polyline points="1502.63,943.43 1502.69,940.91 1502.75,938.43 1502.82,935.89 1502.88,933.4 1502.94,930.86 1503.01,928.38 1503.07,925.82 1503.13,923.33 1503.19,920.8 1503.26,918.29 1503.38,915.75 1503.51,913.3 1503.63,910.79 1503.76,908.25 1503.89,905.73 1504.01,903.14 1504.14,900.72 1504.26,898.15 1504.39,895.6 1504.51,893.05 1505.06,890.67 1505.61,888.22 1506.16,886.06 1506.71,883.92 1507.26,881.41 1507.81,878.94 1508.36,876.56 1508.91,874.54 1509.99,872.15 1511.07,869.65 1512.15,867.07 1513.22,865.34 1514.3,862.76 1515.38,860.59 1516.46,857.69 1518.03,856.19 1519.6,854.12 1521.17,852.07 1522.74,850.74 1523.69,848.28 1524.63,846.43 1525.57,844.08 1526.51,841.18 1527.52,839.43 1528.53,836.89 1529.53,835.08 1530.54,832.83 1531.54,829.98 1532.8,828.53 1534.06,825.92 1535.31,824.04 1536.57,821.62 1537.62,819.06 1538.67,817.32 1539.71,815.16 1540.76,812.67 1541.81,810.65 1542.86,808.48 1544.11,807.01 1545.37,804.28 1546.63,801.68 1547.89,799.54 1549.14,797.11 1550.4,794.84 1551.91,793.16 1553.42,791.51 1554.93,789.78 1556.43,788.66 1557.94,785.67 1559.7,784.04 1561.45,781.64 1563.2,780.34 1564.53,777.76 1565.87,775.74 1567.2,774.64 1568.53,771.98 1569.87,770.59 1571.2,768.82 1572.8,767.25 1574.4,764.61 1576,763.01 1577.6,760.75 1579.2,758.32 1581.12,758.32 1583.04,757.11 1584.96,755.88 1586.88,753.21 1588.8,753.01 1590.4,749.89 1592,747.77 1593.6,746.48 1595.2,744.26 1596.8,742.06 1598.4,740.54 1600.4,738.58 1602.4,738.03 1604.4,737.38 1606.4,735.75 1608.53,735.41 1610.67,735.93 1612.8,734.69 1614.72,733.69 1616.64,731.29 1618.56,730.54 1620.48,729.1 1622.4,726.68 1624.8,726 1627.2,725.08 1629.6,722.89 1632,720.69 1633.8,719.83 1635.6,718.79 1637.4,716.75 1639.2,714.47 1641,713.62 1642.8,711.53 1644.6,710.85 1646.4,707.96 1648.53,707.81 1650.67,705.52 1652.8,704.86 1654.93,703.58 1657.07,701.2 1659.2,700.18 1661.33,699.61 1663.47,698.15 1665.6,696.47 1667.73,695.09 1669.87,693.99 1672,693.21 1674.4,690.82 1676.8,690.86 1679.2,689.39 1681.6,688.86 1683.73,686.64 1685.87,686.54 1688,685.2 1690.67,684.91 1693.33,685.11 1696,685.9 1698,685.17 1700,684.12 1702,683.45 1704,682.42 1706.24,681.07 1708.48,680 1710.72,678.54 1712.96,675.75 1715.2,675.34 1717.33,673.25 1719.47,673.47 1721.6,672.69 1723.73,670.88 1725.87,669.35 1728,668.77 1730.24,667.76 1732.48,667.27 1734.72,665.1 1736.96,664.9 1739.2,663.68 1741.76,662.29 1744.32,661.69 1746.88,660.98 1749.44,659.66 1752,659.62 1754.67,658.28 1757.33,657.77 1760,656.57 1762.44,654.94 1764.89,655.08 1767.33,653.48 1769.78,652.67 1772.22,652.54 1774.67,650.88 1777.11,650.06 1779.56,650.91 1782,648.89 1784.67,649.09 1787.33,648.53 1790,648.3 1792.67,648.45 1795.33,648.05 1798,646.44 1800.29,645.57 1802.57,645.89 1804.86,645.44 1807.14,645.04 1809.43,644.64 1811.71,644.4 1814,642.86 1816.67,642.38 1819.33,641.55 1822,642.08 1824.67,640.31 1827.33,640.24 1830,640.25 1832.67,639.21 1835.33,638.91 1838,639.38 1840.67,639.24 1843.33,638.74 1846,638.27 1848.24,638.68 1850.48,636.68 1852.72,637.31 1854.96,636.53 1857.2,637.23 1859.6,636.66 1862,637.36 1864.4,638.51 1866.8,637.79 1869.04,637.59 1871.28,637.53 1873.52,638.28 1875.76,637.9 1878,637.27 1880.56,636.61 1883.12,637.45 1885.68,636.8 1888.24,637.38 1890.8,638.03 1893.2,637.37 1895.6,637.87 1898,637.41 1900.4,637.39 1902.8,637.1 1905.2,638.02 1907.6,637.52 1910,638.15 1912.72,637.81 1915.44,639.45 1918.16,639.16 1920.88,640.69 1922.86,641.63 1924.85,642.62 1926.83,644.15 1928.82,645.69 1930.8,646.67 1932.4,649.21 1934,649.86 1935.6,652.32 1937.2,653.15 1938.8,654.35 1940.4,655.99 1942,658.43 1943.6,660.34 1945.2,661.52 1946,663.63 1946.8,666.18 1947.6,668.55 1948.4,670.9 1949.68,673.3 1950.96,675.03 1952.24,677.76 1953.52,679.77 1954.8,682.21 1956,684.53 1957.2,686.67 1958.4,688.33 1959.6,690.07 1959.92,692.74 1960.24,695.37 1960.56,697.8 1960.88,700.44 1961.2,703.04 1961.33,705.71 1961.47,708.4 1961.6,710.95 1961.73,713.63 1961.87,716.32 1962,718.96 1962.2,721.74 1962.4,724.65 1962.6,727.34 1962.8,730.06 1963.28,732.76 1963.76,735.2 1964.24,738.09 1964.72,740.37 1965.2,743.17 1965.47,745.71 1965.73,748.22 1966,750.88 1966.27,753.62 1966.53,756.44 1966.8,758.92 1967.07,761.56 1967.33,764.21 1967.6,767.11 1967.87,769.76 1968.13,772.44 1968.4,775.09 1968.67,777.54 1968.93,779.67 1969.2,782.23 1969.47,784.52 1969.73,786.93 1970,789.38 1970.57,791.47 1971.14,793.92 1971.71,796.18 1972.29,798.29 1972.86,801.09 1973.43,803.4 1974,805.56 1974.32,807.92 1974.64,810.31 1974.96,812.63 1975.28,814.95 1975.6,817.27 1975.92,819.73 1976.04,822.22 1976.16,824.6 1976.28,827 1976.4,829.35 1976.52,831.83 1976.64,834.2 1976.76,836.62 1976.88,839.02 1976.91,841.45 1976.95,843.93 1976.98,846.41 1977.02,848.88 1977.05,851.34 1977.09,853.81 1977.12,856.26 1977.15,858.72 1977.21,861.49 1977.26,864.21 1977.32,866.95 1977.37,869.73 1977.43,872.46 1977.62,875.05 1977.82,877.6 1978.02,880.04 1978.21,882.6 1978.41,885.17 1978.6,887.69 1978.8,890.41 1979.14,892.65 1979.49,894.71 1979.83,896.97 1980.17,899.45 1980.51,901.76 1980.86,903.99 1981.18,906.67 1981.5,909.55 1981.82,912.23" fill="none" stroke="#3d8ccb" stroke-width="3.3" stroke-dasharray="9.7 4.4" stroke-linejoin="round" clip-path="url(#cl12)"/>
<polyline points="1503.68,658.2 1503.67,660.73 1503.65,663.26 1503.64,665.8 1503.63,668.33 1503.61,670.87 1503.6,673.4 1503.59,675.93 1503.57,678.47 1503.56,681.01 1503.55,683.54 1503.53,686.06 1503.52,688.6 1503.51,691.14 1503.49,693.66 1503.48,696.2 1503.47,698.73 1503.45,701.27 1503.44,703.8 1503.43,706.34 1503.41,708.87 1503.4,711.4 1503.39,713.94 1503.37,716.46 1503.36,719 1503.35,721.45 1503.34,723.89 1503.33,726.32 1503.33,728.77 1503.32,731.21 1503.31,733.65 1503.3,736.1 1503.29,738.54 1503.28,740.98 1503.28,743.43 1503.27,745.86 1503.26,748.31 1503.25,750.74 1503.24,753.19 1503.23,755.63 1503.23,758.08 1503.22,760.52 1503.21,762.96 1503.2,765.44 1503.54,767.84 1503.89,770.58 1504.23,773.08 1504.57,775.63 1504.91,778.12 1505.26,780.56 1505.6,783.03 1505.8,785.45 1506,787.7 1506.2,790.14 1506.4,792.6 1506.6,794.99 1506.8,797.5 1507,799.86 1507.2,801.9 1507.68,799.72 1508.16,797.07 1508.64,794.65 1509.12,791.98 1509.6,789.87 1509.8,791.98 1510,794.53 1510.2,797.21 1510.4,799.86 1510.6,802.31 1510.8,804.99 1511,807.66 1511.2,810.35 1511.56,807.56 1511.91,805.37 1512.27,802.64 1512.62,800.23 1512.98,797.72 1513.33,795.2 1513.69,792.85 1514.04,790.19 1514.4,787.51 1516,785.25 1517.6,783.75 1518.4,785.18 1519.2,787.61 1520,790.09 1520.8,792.58 1521.6,794.77 1522.93,792.71 1524.27,790.48 1525.6,787.91 1527.6,789.3 1529.6,790.84 1531.04,789.7 1532.48,787.23 1533.92,785.09 1535.36,783.58 1536.8,782.37 1537.44,779.83 1538.08,777.54 1538.72,775.27 1539.36,772.34 1540,770.19 1540.8,768.13 1541.6,765.89 1542.4,763.37 1543.2,762.08 1545.07,763.39 1546.93,764.04 1548.8,766.27 1550.93,764.25 1553.07,763.22 1555.2,761.05 1557.33,761.6 1559.47,761.63 1561.6,762.84 1564.27,762.13 1566.93,760.98 1569.6,761.95 1572,762.33 1574.4,762.32 1576.8,762.86 1579.2,763.25 1581.6,762.24 1584,760.23 1586.4,760.37 1588.8,758.2 1590.93,756.5 1593.07,755.24 1595.2,754.31 1597.33,752.93 1599.47,751.5 1601.6,750.15 1604.27,747.75 1606.93,747.83 1609.6,747.69 1611.52,746.17 1613.44,743.33 1615.36,741.6 1617.28,740.29 1619.2,739.29 1621.07,736.55 1622.93,736.23 1624.8,733.79 1626.67,732.43 1628.53,729.79 1630.4,728.05 1632.64,727.18 1634.88,726.47 1637.12,723.51 1639.36,722.99 1641.6,721.84 1644.27,721.61 1646.93,722.26 1649.6,722.05 1652,721.2 1654.4,720.51 1656.8,719.7 1659.2,719.81 1661.33,718.32 1663.47,716.05 1665.6,715.2 1667.73,713.96 1669.87,714.56 1672,713.38 1674.13,711.6 1676.27,709.53 1678.4,709.31 1680.53,707.88 1682.67,705.36 1684.8,704.84 1687.09,703.6 1689.37,703.35 1691.66,702.18 1693.94,702.07 1696.23,700.76 1698.51,700.54 1700.8,698.75 1703.2,697.89 1705.6,698.83 1708,698.79 1710.4,698.21 1712.8,697.42 1715.2,697.2 1717.76,697.51 1720.32,696.39 1722.88,696.31 1725.44,695.6 1728,694.13 1730.29,694.03 1732.57,691.64 1734.86,691.74 1737.14,690.08 1739.43,688.63 1741.71,688.14 1744,687.02 1746.29,685.94 1748.57,685.48 1750.86,684.79 1753.14,683.82 1755.43,684.61 1757.71,684.37 1760,682.56 1762.3,681.97 1764.6,681.1 1766.9,681.33 1769.2,680.67 1771.49,679.16 1773.77,678.03 1776.06,678.83 1778.34,678.37 1780.63,676.89 1782.91,676.82 1785.2,676.83 1787.49,676.25 1789.77,673.89 1792.06,673.73 1794.34,673.18 1796.63,671.36 1798.91,670.78 1801.2,670.09 1803.87,670.32 1806.53,670.06 1809.2,669.1 1811.87,669.3 1814.53,668.75 1817.2,667.17 1819.49,667.51 1821.77,666.89 1824.06,666.14 1826.34,665.69 1828.63,664.75 1830.91,663.69 1833.2,663.13 1835.49,663.2 1837.77,662.5 1840.06,661.58 1842.34,659.89 1844.63,659.97 1846.91,659.73 1849.2,659.63 1851.76,657.82 1854.32,657.84 1856.88,657.51 1859.44,656.38 1862,654.94 1864.29,655.09 1866.57,654.32 1868.86,654.58 1871.14,653.91 1873.43,652.66 1875.71,652.16 1878,653.12 1880.67,651.8 1883.33,652.87 1886,652.85 1888.67,652.35 1891.33,652.01 1894,651.16 1896.29,651.19 1898.57,649.77 1900.86,648.95 1903.14,648.66 1905.43,647.94 1907.71,647.01 1910,647.59 1912.67,646.71 1915.33,645.62 1918,646.47 1920.67,644.5 1923.33,645.68 1926,644.56 1928.67,644.05 1931.33,643.64 1934,643.31 1936.67,642.42 1939.33,642.27 1942,641.65 1944.67,642.4 1947.33,642.76 1950,643.04 1952.24,643.43 1954.48,644.12 1956.72,645.32 1958.96,645.61 1961.2,644.76 1963.81,645.5 1966.43,646 1969.04,644.96 1971.65,646.44 1974.27,645.1 1976.88,646 1979.44,648.09 1982,649.4" fill="none" stroke="#e8621c" stroke-width="3.3" stroke-dasharray="9.7 4.4" stroke-linejoin="round" clip-path="url(#cl12)"/>
<polyline points="1504,784.6 1503.99,787.12 1503.98,789.63 1503.97,792.14 1503.95,794.65 1503.94,797.18 1503.93,799.68 1503.92,802.21 1503.91,804.71 1503.9,807.22 1503.89,809.74 1503.87,812.26 1503.86,814.77 1503.85,817.29 1503.84,819.81 1503.83,822.32 1503.82,824.83 1503.81,827.34 1503.79,829.86 1503.78,832.37 1503.77,834.89 1503.76,837.4 1503.75,839.91 1503.74,842.42 1503.73,844.95 1503.71,847.46 1503.7,849.97 1503.69,852.48 1503.68,855.01 1503.77,857.61 1503.86,860.24 1503.95,862.84 1504.05,865.36 1504.14,868.01 1504.21,870.52 1504.29,873.04 1504.36,875.52 1504.44,878.04 1504.51,880.58 1504.59,883.08 1504.67,885.57 1504.74,888.12 1504.82,890.67 1504.89,892.39 1505.65,890.74 1506.4,888.36 1507.15,885.91 1507.91,882.99 1508.66,880.77 1509.42,878.35 1510.17,875.33 1510.89,873.19 1511.61,870.77 1512.33,868.2 1513.04,865.66 1513.76,863.05 1514.48,860.53 1515.2,857.65 1515.95,855.39 1516.71,853.74 1517.46,851.29 1518.22,849.11 1518.97,846.91 1519.91,844.1 1520.86,841.31 1521.8,839.34 1522.74,836.29 1523.5,833.98 1524.25,831.7 1525.01,828.73 1525.76,826.71 1526.51,824.05 1527.14,826.07 1527.77,828.41 1528.4,830.81 1529.03,833.36 1529.97,830.55 1530.91,827.97 1531.86,824.91 1532.8,822.97 1534.06,825.09 1535.31,827.3 1536.57,825.32 1537.83,823.89 1539.09,821.38 1540.97,820.01 1542.86,817.04 1545.69,818.08 1548.51,819.39 1549.98,816.29 1551.45,814.79 1552.91,812.04 1554.8,810.31 1556.69,808.68 1558.57,806.72 1560.46,805.14 1562.34,802.68 1564.23,800.52 1566.11,798.04 1568,795.73 1570.51,796.08 1573.03,794.57 1575.54,794.24 1578.06,792.48 1580.26,791.1 1582.46,790.31 1584.66,789.16 1586.86,788.38 1589.37,787.92 1591.89,786.55 1594.4,787.38 1596.91,786.61 1599.43,784.93 1601.8,784.75 1604.16,785.46 1606.53,784.58 1608.9,784.27 1611.27,785.14 1613.63,785.2 1616,784.27 1618.4,783.27 1620.8,784.56 1623.2,784.58 1625.6,784.48 1627.6,782.06 1629.6,782.17 1631.6,779.47 1633.6,778.82 1636,777.47 1638.4,775.97 1640.8,775.33 1643.2,772.91 1645.44,772.45 1647.68,770.23 1649.92,769.76 1652.16,768.89 1654.4,766.57 1656.64,766.61 1658.88,764.5 1661.12,763.63 1663.36,763.7 1665.6,762.92 1667.73,763.22 1669.87,762.19 1672,762.56 1674.56,762.09 1677.12,761.52 1679.68,761.25 1682.24,760.37 1684.8,761.25 1687.2,759.76 1689.6,759.3 1692,757.81 1694.4,756.73 1696.8,755.16 1699.2,754.59 1701.76,754.68 1704.32,753.64 1706.88,754.06 1709.44,754.3 1712,752.6 1714.4,752.48 1716.8,753.79 1719.2,753.24 1721.6,752.12 1724,751.86 1726.4,752.68 1728.96,752.26 1731.52,754 1734.08,753.25 1736.64,754.46 1739.2,754.02 1741.76,754.1 1744.32,754.42 1746.88,755.91 1749.44,755.77 1752,757.01 1754.67,756.61 1757.33,758.23 1760,758.58 1762.7,758.91 1765.4,758.64 1768.1,758.73 1770.8,759.44 1773.2,760.96 1775.6,760.63 1778,760.87 1780.4,760.2 1782.8,761.21 1785.2,761.64 1787.76,762.5 1790.32,763.28 1792.88,762.34 1795.44,764.04 1798,763.63 1800.67,764.2 1803.33,764.09 1806,765.28 1808.67,765.86 1811.33,765.79 1814,765.58 1816.3,765.94 1818.61,767.08 1820.91,767.25 1823.22,767.05 1825.52,767.8 1827.7,768.34 1829.87,769.64 1832.05,771.66 1834.22,772.73 1836.4,773.96 1838.32,775.33 1840.24,776.29 1842.16,777.36 1844.08,778.99 1846,780.02 1848.67,780.46 1851.33,779.57 1854,779.86 1856.67,781.15 1859.33,779.47 1862,779.53 1863.92,781.05 1865.84,782.39 1867.76,784.21 1869.68,786.64 1871.6,787.21 1872.88,789.43 1874.16,791.2 1875.44,793.66 1876.72,795.89 1878,797.46 1880.06,798.3 1882.11,798.94 1884.17,800.03 1886.23,801.53 1888.29,802.84 1890.34,803.9 1892.4,804.81 1894.46,805.5 1896.51,807.46 1898.34,808.72 1900.17,810.88 1902,812.93 1904.29,814.3 1906.57,816.8 1908.86,817.13 1910.57,819.7 1912.29,820.01 1914,821.26 1915.71,822.44 1917.43,825.25 1919.14,825.49 1920.86,827.96 1922.57,828.66 1924.86,830.69 1927.14,830.55 1929.43,832.67 1930.8,834.85 1932.17,835.52 1933.54,837.51 1934.91,839.41 1937.2,841.44 1939.49,843.26 1941.77,843.93 1943.83,846.41 1945.89,847.56 1947.94,848.58 1950,849.23 1952.29,850.33 1954.57,852.65 1956.86,853.35 1959.14,854.91 1961.43,856.55 1963.71,856.66 1965.09,859.94 1966.46,861.64 1967.83,863.51 1969.2,865.87 1970.57,867.54 1971.94,869.6 1973.31,870.68 1974.69,872.3 1976.57,874.98 1978.46,875.79 1980.34,877.95 1982.23,880" fill="none" stroke="#3dab5e" stroke-width="3.3" stroke-dasharray="9.7 4.4" stroke-linejoin="round" clip-path="url(#cl12)"/>
<circle cx="1920.9" cy="639.8" r="5.2" fill="#3182bd" stroke="#ffffff" stroke-width="0.9"/>
<circle cx="1976.9" cy="645.9" r="5.2" fill="#e6550d" stroke="#ffffff" stroke-width="0.9"/>
<circle cx="1825.5" cy="767" r="5.2" fill="#31a354" stroke="#ffffff" stroke-width="0.9"/>
<rect x="1497.4" y="856" width="302" height="122.6" rx="3.1" fill="#ffffff" fill-opacity="0.8" stroke="#3a3a3a" stroke-width="1.0"/>
<text font-size="22" text-anchor="start" fill="#202020" stroke="#202020" stroke-width="0.3" stroke-linejoin="round" transform="translate(1505.8 879.5)">Variant caller</text>
<line x1="1506.1" y1="901.7" x2="1545.5" y2="901.7" stroke="#3182bd" stroke-width="4.0" stroke-linecap="round"/>
<text font-size="20.1" text-anchor="start" fill="#202020" stroke="#202020" stroke-width="0.3" stroke-linejoin="round" transform="translate(1561.8 908.6)">ClairS-TO SS (0.4340)</text>
<line x1="1506.1" y1="930.6" x2="1545.5" y2="930.6" stroke="#e6550d" stroke-width="4.0" stroke-linecap="round"/>
<text font-size="20.1" text-anchor="start" fill="#202020" stroke="#202020" stroke-width="0.3" stroke-linejoin="round" transform="translate(1561.8 937.5)">ClairS-TO SSRS (0.4396)</text>
<line x1="1506.1" y1="959.5" x2="1545.5" y2="959.5" stroke="#31a354" stroke-width="4.0" stroke-linecap="round"/>
<text font-size="20.1" text-anchor="start" fill="#202020" stroke="#202020" stroke-width="0.3" stroke-linejoin="round" transform="translate(1561.8 966.4)">Clair3 (0.2915)</text>
<rect x="1487.6" y="584.2" width="509.2" height="404.5" fill="none" stroke="#333333" stroke-width="1.45"/>
<line x1="1501.9" y1="988.7" x2="1501.9" y2="994.7" stroke="#333333" stroke-width="1.3"/>
<text font-size="20" text-anchor="middle" fill="#202020" stroke="#202020" stroke-width="0.3" stroke-linejoin="round" transform="translate(1501.9 1010.9) scale(1 1.06)">0.0</text>
<line x1="1597.96" y1="988.7" x2="1597.96" y2="994.7" stroke="#333333" stroke-width="1.3"/>
<text font-size="20" text-anchor="middle" fill="#202020" stroke="#202020" stroke-width="0.3" stroke-linejoin="round" transform="translate(1597.96 1010.9) scale(1 1.06)">0.2</text>
<line x1="1694.02" y1="988.7" x2="1694.02" y2="994.7" stroke="#333333" stroke-width="1.3"/>
<text font-size="20" text-anchor="middle" fill="#202020" stroke="#202020" stroke-width="0.3" stroke-linejoin="round" transform="translate(1694.02 1010.9) scale(1 1.06)">0.4</text>
<line x1="1790.08" y1="988.7" x2="1790.08" y2="994.7" stroke="#333333" stroke-width="1.3"/>
<text font-size="20" text-anchor="middle" fill="#202020" stroke="#202020" stroke-width="0.3" stroke-linejoin="round" transform="translate(1790.08 1010.9) scale(1 1.06)">0.6</text>
<line x1="1886.14" y1="988.7" x2="1886.14" y2="994.7" stroke="#333333" stroke-width="1.3"/>
<text font-size="20" text-anchor="middle" fill="#202020" stroke="#202020" stroke-width="0.3" stroke-linejoin="round" transform="translate(1886.14 1010.9) scale(1 1.06)">0.8</text>
<line x1="1982.2" y1="988.7" x2="1982.2" y2="994.7" stroke="#333333" stroke-width="1.3"/>
<text font-size="20" text-anchor="middle" fill="#202020" stroke="#202020" stroke-width="0.3" stroke-linejoin="round" transform="translate(1982.2 1010.9) scale(1 1.06)">1.0</text>
<line x1="1481.6" y1="977.4" x2="1487.6" y2="977.4" stroke="#333333" stroke-width="1.3"/>
<text font-size="20" text-anchor="end" fill="#202020" stroke="#202020" stroke-width="0.3" stroke-linejoin="round" transform="translate(1480.1 984.75) scale(1 1.06)">0.0</text>
<line x1="1481.6" y1="913.75" x2="1487.6" y2="913.75" stroke="#333333" stroke-width="1.3"/>
<text font-size="20" text-anchor="end" fill="#202020" stroke="#202020" stroke-width="0.3" stroke-linejoin="round" transform="translate(1480.1 921.1) scale(1 1.06)">0.1</text>
<line x1="1481.6" y1="850.1" x2="1487.6" y2="850.1" stroke="#333333" stroke-width="1.3"/>
<text font-size="20" text-anchor="end" fill="#202020" stroke="#202020" stroke-width="0.3" stroke-linejoin="round" transform="translate(1480.1 857.45) scale(1 1.06)">0.2</text>
<line x1="1481.6" y1="786.45" x2="1487.6" y2="786.45" stroke="#333333" stroke-width="1.3"/>
<text font-size="20" text-anchor="end" fill="#202020" stroke="#202020" stroke-width="0.3" stroke-linejoin="round" transform="translate(1480.1 793.8) scale(1 1.06)">0.3</text>
<line x1="1481.6" y1="722.8" x2="1487.6" y2="722.8" stroke="#333333" stroke-width="1.3"/>
<text font-size="20" text-anchor="end" fill="#202020" stroke="#202020" stroke-width="0.3" stroke-linejoin="round" transform="translate(1480.1 730.15) scale(1 1.06)">0.4</text>
<line x1="1481.6" y1="659.15" x2="1487.6" y2="659.15" stroke="#333333" stroke-width="1.3"/>
<text font-size="20" text-anchor="end" fill="#202020" stroke="#202020" stroke-width="0.3" stroke-linejoin="round" transform="translate(1480.1 666.5) scale(1 1.06)">0.5</text>
<line x1="1481.6" y1="595.5" x2="1487.6" y2="595.5" stroke="#333333" stroke-width="1.3"/>
<text font-size="20" text-anchor="end" fill="#202020" stroke="#202020" stroke-width="0.3" stroke-linejoin="round" transform="translate(1480.1 602.85) scale(1 1.06)">0.6</text>
<text font-size="21.8" text-anchor="middle" fill="#202020" stroke="#202020" stroke-width="0.3" stroke-linejoin="round" transform="translate(1742.2 573.35)">ONT HCC1395 75x Indel</text>
<text font-size="22.7" text-anchor="middle" fill="#202020" stroke="#202020" stroke-width="0.3" stroke-linejoin="round" transform="translate(1742.2 1044.2)">Recall</text>
<text font-size="22.7" text-anchor="middle" fill="#202020" stroke="#202020" stroke-width="0.3" stroke-linejoin="round" transform="translate(1434.3 786.85) rotate(-90) scale(1 1.04)">Precision</text>
<rect x="251.3" y="1309.88" width="19" height="354.22" fill="#9ecae1"/>
<text font-size="16.9" text-anchor="start" fill="#ffffff" stroke="#ffffff" stroke-width="0.3" stroke-linejoin="round" transform="translate(266.45 1657.7) rotate(-90)">Precision</text>
<text font-size="16.9" text-anchor="end" fill="#ffffff" stroke="#ffffff" stroke-width="0.3" stroke-linejoin="round" transform="translate(266.45 1320.48) rotate(-90)">0.701</text>
<rect x="271.1" y="1197.71" width="16.4" height="466.39" fill="#6baed6"/>
<text font-size="16.9" text-anchor="start" fill="#ffffff" stroke="#ffffff" stroke-width="0.3" stroke-linejoin="round" transform="translate(283.2 1657.7) rotate(-90)">Recall</text>
<text font-size="16.9" text-anchor="end" fill="#ffffff" stroke="#ffffff" stroke-width="0.3" stroke-linejoin="round" transform="translate(283.2 1208.31) rotate(-90)">0.923</text>
<rect x="287.9" y="1261.38" width="17.3" height="402.72" fill="#3182bd"/>
<text font-size="16.9" text-anchor="start" fill="#ffffff" stroke="#ffffff" stroke-width="0.3" stroke-linejoin="round" transform="translate(301.4 1657.7) rotate(-90)">F1-score</text>
<text font-size="16.9" text-anchor="end" fill="#ffffff" stroke="#ffffff" stroke-width="0.3" stroke-linejoin="round" transform="translate(301.4 1271.98) rotate(-90)">0.797</text>
<rect x="324.77" y="1302.81" width="19" height="361.29" fill="#fdae6b"/>
<text font-size="16.9" text-anchor="start" fill="#ffffff" stroke="#ffffff" stroke-width="0.3" stroke-linejoin="round" transform="translate(339.92 1657.7) rotate(-90)">Precision</text>
<text font-size="16.9" text-anchor="end" fill="#ffffff" stroke="#ffffff" stroke-width="0.3" stroke-linejoin="round" transform="translate(339.92 1313.41) rotate(-90)">0.715</text>
<rect x="344.57" y="1206.8" width="16.4" height="457.3" fill="#fd8d3c"/>
<text font-size="16.9" text-anchor="start" fill="#ffffff" stroke="#ffffff" stroke-width="0.3" stroke-linejoin="round" transform="translate(356.67 1657.7) rotate(-90)">Recall</text>
<text font-size="16.9" text-anchor="end" fill="#ffffff" stroke="#ffffff" stroke-width="0.3" stroke-linejoin="round" transform="translate(356.67 1217.4) rotate(-90)">0.905</text>
<rect x="361.37" y="1260.37" width="17.3" height="403.73" fill="#e6550d"/>
<text font-size="16.9" text-anchor="start" fill="#ffffff" stroke="#ffffff" stroke-width="0.3" stroke-linejoin="round" transform="translate(374.87 1657.7) rotate(-90)">F1-score</text>
<text font-size="16.9" text-anchor="end" fill="#ffffff" stroke="#ffffff" stroke-width="0.3" stroke-linejoin="round" transform="translate(374.87 1270.97) rotate(-90)">0.799</text>
<rect x="398.24" y="1357.38" width="19" height="306.72" fill="#a1d99b"/>
<text font-size="16.9" text-anchor="start" fill="#ffffff" stroke="#ffffff" stroke-width="0.3" stroke-linejoin="round" transform="translate(413.39 1657.7) rotate(-90)">Precision</text>
<text font-size="16.9" text-anchor="end" fill="#ffffff" stroke="#ffffff" stroke-width="0.3" stroke-linejoin="round" transform="translate(413.39 1367.98) rotate(-90)">0.607</text>
<rect x="418.04" y="1329.09" width="16.4" height="335.01" fill="#74c476"/>
<text font-size="16.9" text-anchor="start" fill="#ffffff" stroke="#ffffff" stroke-width="0.3" stroke-linejoin="round" transform="translate(430.14 1657.7) rotate(-90)">Recall</text>
<text font-size="16.9" text-anchor="end" fill="#ffffff" stroke="#ffffff" stroke-width="0.3" stroke-linejoin="round" transform="translate(430.14 1339.69) rotate(-90)">0.663</text>
<rect x="434.84" y="1343.74" width="17.3" height="320.36" fill="#31a354"/>
<text font-size="16.9" text-anchor="start" fill="#ffffff" stroke="#ffffff" stroke-width="0.3" stroke-linejoin="round" transform="translate(448.34 1657.7) rotate(-90)">F1-score</text>
<text font-size="16.9" text-anchor="end" fill="#ffffff" stroke="#ffffff" stroke-width="0.3" stroke-linejoin="round" transform="translate(448.34 1354.34) rotate(-90)">0.634</text>
<rect x="471.71" y="1307.86" width="19" height="356.24" fill="#9ecae1"/>
<text font-size="16.9" text-anchor="start" fill="#ffffff" stroke="#ffffff" stroke-width="0.3" stroke-linejoin="round" transform="translate(486.86 1657.7) rotate(-90)">Precision</text>
<text font-size="16.9" text-anchor="end" fill="#ffffff" stroke="#ffffff" stroke-width="0.3" stroke-linejoin="round" transform="translate(486.86 1318.46) rotate(-90)">0.705</text>
<rect x="491.51" y="1205.79" width="16.4" height="458.31" fill="#6baed6"/>
<text font-size="16.9" text-anchor="start" fill="#ffffff" stroke="#ffffff" stroke-width="0.3" stroke-linejoin="round" transform="translate(503.61 1657.7) rotate(-90)">Recall</text>
<text font-size="16.9" text-anchor="end" fill="#ffffff" stroke="#ffffff" stroke-width="0.3" stroke-linejoin="round" transform="translate(503.61 1216.39) rotate(-90)">0.907</text>
<rect x="508.31" y="1263.4" width="17.3" height="400.7" fill="#3182bd"/>
<text font-size="16.9" text-anchor="start" fill="#ffffff" stroke="#ffffff" stroke-width="0.3" stroke-linejoin="round" transform="translate(521.81 1657.7) rotate(-90)">F1-score</text>
<text font-size="16.9" text-anchor="end" fill="#ffffff" stroke="#ffffff" stroke-width="0.3" stroke-linejoin="round" transform="translate(521.81 1274) rotate(-90)">0.793</text>
<rect x="545.18" y="1303.82" width="19" height="360.28" fill="#fdae6b"/>
<text font-size="16.9" text-anchor="start" fill="#ffffff" stroke="#ffffff" stroke-width="0.3" stroke-linejoin="round" transform="translate(560.33 1657.7) rotate(-90)">Precision</text>
<text font-size="16.9" text-anchor="end" fill="#ffffff" stroke="#ffffff" stroke-width="0.3" stroke-linejoin="round" transform="translate(560.33 1314.42) rotate(-90)">0.713</text>
<rect x="564.98" y="1210.85" width="16.4" height="453.25" fill="#fd8d3c"/>
<text font-size="16.9" text-anchor="start" fill="#ffffff" stroke="#ffffff" stroke-width="0.3" stroke-linejoin="round" transform="translate(577.08 1657.7) rotate(-90)">Recall</text>
<text font-size="16.9" text-anchor="end" fill="#ffffff" stroke="#ffffff" stroke-width="0.3" stroke-linejoin="round" transform="translate(577.08 1221.45) rotate(-90)">0.897</text>
<rect x="581.78" y="1262.89" width="17.3" height="401.21" fill="#e6550d"/>
<text font-size="16.9" text-anchor="start" fill="#ffffff" stroke="#ffffff" stroke-width="0.3" stroke-linejoin="round" transform="translate(595.28 1657.7) rotate(-90)">F1-score</text>
<text font-size="16.9" text-anchor="end" fill="#ffffff" stroke="#ffffff" stroke-width="0.3" stroke-linejoin="round" transform="translate(595.28 1273.49) rotate(-90)">0.794</text>
<rect x="618.65" y="1363.45" width="19" height="300.65" fill="#a1d99b"/>
<text font-size="16.9" text-anchor="start" fill="#ffffff" stroke="#ffffff" stroke-width="0.3" stroke-linejoin="round" transform="translate(633.8 1657.7) rotate(-90)">Precision</text>
<text font-size="16.9" text-anchor="end" fill="#ffffff" stroke="#ffffff" stroke-width="0.3" stroke-linejoin="round" transform="translate(633.8 1374.05) rotate(-90)">0.595</text>
<rect x="638.45" y="1324.54" width="16.4" height="339.56" fill="#74c476"/>
<text font-size="16.9" text-anchor="start" fill="#ffffff" stroke="#ffffff" stroke-width="0.3" stroke-linejoin="round" transform="translate(650.55 1657.7) rotate(-90)">Recall</text>
<text font-size="16.9" text-anchor="end" fill="#ffffff" stroke="#ffffff" stroke-width="0.3" stroke-linejoin="round" transform="translate(650.55 1335.14) rotate(-90)">0.672</text>
<rect x="655.25" y="1345.26" width="17.3" height="318.84" fill="#31a354"/>
<text font-size="16.9" text-anchor="start" fill="#ffffff" stroke="#ffffff" stroke-width="0.3" stroke-linejoin="round" transform="translate(668.75 1657.7) rotate(-90)">F1-score</text>
<text font-size="16.9" text-anchor="end" fill="#ffffff" stroke="#ffffff" stroke-width="0.3" stroke-linejoin="round" transform="translate(668.75 1355.86) rotate(-90)">0.631</text>
<rect x="692.12" y="1315.44" width="19" height="348.66" fill="#9ecae1"/>
<text font-size="16.9" text-anchor="start" fill="#ffffff" stroke="#ffffff" stroke-width="0.3" stroke-linejoin="round" transform="translate(707.27 1657.7) rotate(-90)">Precision</text>
<text font-size="16.9" text-anchor="end" fill="#ffffff" stroke="#ffffff" stroke-width="0.3" stroke-linejoin="round" transform="translate(707.27 1326.04) rotate(-90)">0.690</text>
<rect x="711.92" y="1232.57" width="16.4" height="431.53" fill="#6baed6"/>
<text font-size="16.9" text-anchor="start" fill="#ffffff" stroke="#ffffff" stroke-width="0.3" stroke-linejoin="round" transform="translate(724.02 1657.7) rotate(-90)">Recall</text>
<text font-size="16.9" text-anchor="end" fill="#ffffff" stroke="#ffffff" stroke-width="0.3" stroke-linejoin="round" transform="translate(724.02 1243.17) rotate(-90)">0.854</text>
<rect x="728.72" y="1278.56" width="17.3" height="385.54" fill="#3182bd"/>
<text font-size="16.9" text-anchor="start" fill="#ffffff" stroke="#ffffff" stroke-width="0.3" stroke-linejoin="round" transform="translate(742.22 1657.7) rotate(-90)">F1-score</text>
<text font-size="16.9" text-anchor="end" fill="#ffffff" stroke="#ffffff" stroke-width="0.3" stroke-linejoin="round" transform="translate(742.22 1289.16) rotate(-90)">0.763</text>
<rect x="765.59" y="1308.37" width="19" height="355.73" fill="#fdae6b"/>
<text font-size="16.9" text-anchor="start" fill="#ffffff" stroke="#ffffff" stroke-width="0.3" stroke-linejoin="round" transform="translate(780.74 1657.7) rotate(-90)">Precision</text>
<text font-size="16.9" text-anchor="end" fill="#ffffff" stroke="#ffffff" stroke-width="0.3" stroke-linejoin="round" transform="translate(780.74 1318.97) rotate(-90)">0.704</text>
<rect x="785.39" y="1237.63" width="16.4" height="426.47" fill="#fd8d3c"/>
<text font-size="16.9" text-anchor="start" fill="#ffffff" stroke="#ffffff" stroke-width="0.3" stroke-linejoin="round" transform="translate(797.49 1657.7) rotate(-90)">Recall</text>
<text font-size="16.9" text-anchor="end" fill="#ffffff" stroke="#ffffff" stroke-width="0.3" stroke-linejoin="round" transform="translate(797.49 1248.23) rotate(-90)">0.844</text>
<rect x="802.19" y="1276.03" width="17.3" height="388.07" fill="#e6550d"/>
<text font-size="16.9" text-anchor="start" fill="#ffffff" stroke="#ffffff" stroke-width="0.3" stroke-linejoin="round" transform="translate(815.69 1657.7) rotate(-90)">F1-score</text>
<text font-size="16.9" text-anchor="end" fill="#ffffff" stroke="#ffffff" stroke-width="0.3" stroke-linejoin="round" transform="translate(815.69 1286.63) rotate(-90)">0.768</text>
<rect x="839.06" y="1374.06" width="19" height="290.04" fill="#a1d99b"/>
<text font-size="16.9" text-anchor="start" fill="#ffffff" stroke="#ffffff" stroke-width="0.3" stroke-linejoin="round" transform="translate(854.21 1657.7) rotate(-90)">Precision</text>
<text font-size="16.9" text-anchor="end" fill="#ffffff" stroke="#ffffff" stroke-width="0.3" stroke-linejoin="round" transform="translate(854.21 1384.66) rotate(-90)">0.574</text>
<rect x="858.86" y="1353.34" width="16.4" height="310.76" fill="#74c476"/>
<text font-size="16.9" text-anchor="start" fill="#ffffff" stroke="#ffffff" stroke-width="0.3" stroke-linejoin="round" transform="translate(870.96 1657.7) rotate(-90)">Recall</text>
<text font-size="16.9" text-anchor="end" fill="#ffffff" stroke="#ffffff" stroke-width="0.3" stroke-linejoin="round" transform="translate(870.96 1363.94) rotate(-90)">0.615</text>
<rect x="875.66" y="1363.95" width="17.3" height="300.15" fill="#31a354"/>
<text font-size="16.9" text-anchor="start" fill="#ffffff" stroke="#ffffff" stroke-width="0.3" stroke-linejoin="round" transform="translate(889.16 1657.7) rotate(-90)">F1-score</text>
<text font-size="16.9" text-anchor="end" fill="#ffffff" stroke="#ffffff" stroke-width="0.3" stroke-linejoin="round" transform="translate(889.16 1374.55) rotate(-90)">0.594</text>
<line x1="244.3" y1="1587.8" x2="244.3" y2="1664.1" stroke="#1a1a1a" stroke-width="1.5"/>
<line x1="461.4" y1="1587.8" x2="461.4" y2="1664.1" stroke="#1a1a1a" stroke-width="1.5"/>
<line x1="681.7" y1="1587.8" x2="681.7" y2="1664.1" stroke="#1a1a1a" stroke-width="1.5"/>
<line x1="901.8" y1="1587.8" x2="901.8" y2="1664.1" stroke="#1a1a1a" stroke-width="1.5"/>
<text font-size="15.3" text-anchor="middle" fill="#202020" stroke="#202020" stroke-width="0.3" stroke-linejoin="round" transform="translate(352.8 1678.9)">T75x</text>
<text font-size="15.3" text-anchor="middle" fill="#202020" stroke="#202020" stroke-width="0.3" stroke-linejoin="round" transform="translate(573 1678.9)">T50x</text>
<text font-size="15.3" text-anchor="middle" fill="#202020" stroke="#202020" stroke-width="0.3" stroke-linejoin="round" transform="translate(793.2 1678.9)">T25x</text>
<rect x="220.8" y="1158.8" width="704.3" height="505.3" fill="none" stroke="#262626" stroke-width="1.6"/>
<text font-size="15.7" text-anchor="end" fill="#202020" stroke="#202020" stroke-width="0.3" stroke-linejoin="round" transform="translate(217.5 1670.1) scale(1 1.05)">0.0</text>
<text font-size="15.7" text-anchor="end" fill="#202020" stroke="#202020" stroke-width="0.3" stroke-linejoin="round" transform="translate(217.5 1569.04) scale(1 1.05)">0.2</text>
<text font-size="15.7" text-anchor="end" fill="#202020" stroke="#202020" stroke-width="0.3" stroke-linejoin="round" transform="translate(217.5 1467.98) scale(1 1.05)">0.4</text>
<text font-size="15.7" text-anchor="end" fill="#202020" stroke="#202020" stroke-width="0.3" stroke-linejoin="round" transform="translate(217.5 1366.92) scale(1 1.05)">0.6</text>
<text font-size="15.7" text-anchor="end" fill="#202020" stroke="#202020" stroke-width="0.3" stroke-linejoin="round" transform="translate(217.5 1265.86) scale(1 1.05)">0.8</text>
<text font-size="15.7" text-anchor="end" fill="#202020" stroke="#202020" stroke-width="0.3" stroke-linejoin="round" transform="translate(217.5 1164.8) scale(1 1.05)">1.0</text>
<text font-size="19.2" text-anchor="middle" fill="#202020" stroke="#202020" stroke-width="0.3" stroke-linejoin="round" transform="translate(572.95 1148.1)">SNV performance on ONT HCC1395</text>
<text font-size="17" text-anchor="middle" fill="#202020" stroke="#202020" stroke-width="0.3" stroke-linejoin="round" transform="translate(182.6 1411.75) rotate(-90)">Values</text>
<rect x="1140.3" y="1369" width="19" height="295.1" fill="#9ecae1"/>
<text font-size="16.9" text-anchor="start" fill="#ffffff" stroke="#ffffff" stroke-width="0.3" stroke-linejoin="round" transform="translate(1155.45 1657.7) rotate(-90)">Precision</text>
<text font-size="16.9" text-anchor="end" fill="#ffffff" stroke="#ffffff" stroke-width="0.3" stroke-linejoin="round" transform="translate(1155.45 1379.6) rotate(-90)">0.438</text>
<rect x="1160.1" y="1205.29" width="16.4" height="458.81" fill="#6baed6"/>
<text font-size="16.9" text-anchor="start" fill="#ffffff" stroke="#ffffff" stroke-width="0.3" stroke-linejoin="round" transform="translate(1172.2 1657.7) rotate(-90)">Recall</text>
<text font-size="16.9" text-anchor="end" fill="#ffffff" stroke="#ffffff" stroke-width="0.3" stroke-linejoin="round" transform="translate(1172.2 1215.89) rotate(-90)">0.681</text>
<rect x="1176.9" y="1305" width="17.3" height="359.1" fill="#3182bd"/>
<text font-size="16.9" text-anchor="start" fill="#ffffff" stroke="#ffffff" stroke-width="0.3" stroke-linejoin="round" transform="translate(1190.4 1657.7) rotate(-90)">F1-score</text>
<text font-size="16.9" text-anchor="end" fill="#ffffff" stroke="#ffffff" stroke-width="0.3" stroke-linejoin="round" transform="translate(1190.4 1315.6) rotate(-90)">0.533</text>
<rect x="1213.77" y="1315.78" width="19" height="348.32" fill="#fdae6b"/>
<text font-size="16.9" text-anchor="start" fill="#ffffff" stroke="#ffffff" stroke-width="0.3" stroke-linejoin="round" transform="translate(1228.92 1657.7) rotate(-90)">Precision</text>
<text font-size="16.9" text-anchor="end" fill="#ffffff" stroke="#ffffff" stroke-width="0.3" stroke-linejoin="round" transform="translate(1228.92 1326.38) rotate(-90)">0.517</text>
<rect x="1233.57" y="1284.11" width="16.4" height="379.99" fill="#fd8d3c"/>
<text font-size="16.9" text-anchor="start" fill="#ffffff" stroke="#ffffff" stroke-width="0.3" stroke-linejoin="round" transform="translate(1245.67 1657.7) rotate(-90)">Recall</text>
<text font-size="16.9" text-anchor="end" fill="#ffffff" stroke="#ffffff" stroke-width="0.3" stroke-linejoin="round" transform="translate(1245.67 1294.71) rotate(-90)">0.564</text>
<rect x="1250.37" y="1300.96" width="17.3" height="363.14" fill="#e6550d"/>
<text font-size="16.9" text-anchor="start" fill="#ffffff" stroke="#ffffff" stroke-width="0.3" stroke-linejoin="round" transform="translate(1263.87 1657.7) rotate(-90)">F1-score</text>
<text font-size="16.9" text-anchor="end" fill="#ffffff" stroke="#ffffff" stroke-width="0.3" stroke-linejoin="round" transform="translate(1263.87 1311.56) rotate(-90)">0.539</text>
<rect x="1287.24" y="1455.24" width="19" height="208.86" fill="#a1d99b"/>
<text font-size="16.9" text-anchor="start" fill="#ffffff" stroke="#ffffff" stroke-width="0.3" stroke-linejoin="round" transform="translate(1302.39 1657.7) rotate(-90)">Precision</text>
<text font-size="16.9" text-anchor="end" fill="#ffffff" stroke="#ffffff" stroke-width="0.3" stroke-linejoin="round" transform="translate(1302.39 1465.84) rotate(-90)">0.310</text>
<rect x="1307.04" y="1350.14" width="16.4" height="313.96" fill="#74c476"/>
<text font-size="16.9" text-anchor="start" fill="#ffffff" stroke="#ffffff" stroke-width="0.3" stroke-linejoin="round" transform="translate(1319.14 1657.7) rotate(-90)">Recall</text>
<text font-size="16.9" text-anchor="end" fill="#ffffff" stroke="#ffffff" stroke-width="0.3" stroke-linejoin="round" transform="translate(1319.14 1360.74) rotate(-90)">0.466</text>
<rect x="1323.84" y="1413.47" width="17.3" height="250.63" fill="#31a354"/>
<text font-size="16.9" text-anchor="start" fill="#ffffff" stroke="#ffffff" stroke-width="0.3" stroke-linejoin="round" transform="translate(1337.34 1657.7) rotate(-90)">F1-score</text>
<text font-size="16.9" text-anchor="end" fill="#ffffff" stroke="#ffffff" stroke-width="0.3" stroke-linejoin="round" transform="translate(1337.34 1424.07) rotate(-90)">0.372</text>
<rect x="1360.71" y="1382.48" width="19" height="281.62" fill="#9ecae1"/>
<text font-size="16.9" text-anchor="start" fill="#ffffff" stroke="#ffffff" stroke-width="0.3" stroke-linejoin="round" transform="translate(1375.86 1657.7) rotate(-90)">Precision</text>
<text font-size="16.9" text-anchor="end" fill="#ffffff" stroke="#ffffff" stroke-width="0.3" stroke-linejoin="round" transform="translate(1375.86 1393.08) rotate(-90)">0.418</text>
<rect x="1380.51" y="1220.11" width="16.4" height="443.99" fill="#6baed6"/>
<text font-size="16.9" text-anchor="start" fill="#ffffff" stroke="#ffffff" stroke-width="0.3" stroke-linejoin="round" transform="translate(1392.61 1657.7) rotate(-90)">Recall</text>
<text font-size="16.9" text-anchor="end" fill="#ffffff" stroke="#ffffff" stroke-width="0.3" stroke-linejoin="round" transform="translate(1392.61 1230.71) rotate(-90)">0.659</text>
<rect x="1397.31" y="1319.15" width="17.3" height="344.95" fill="#3182bd"/>
<text font-size="16.9" text-anchor="start" fill="#ffffff" stroke="#ffffff" stroke-width="0.3" stroke-linejoin="round" transform="translate(1410.81 1657.7) rotate(-90)">F1-score</text>
<text font-size="16.9" text-anchor="end" fill="#ffffff" stroke="#ffffff" stroke-width="0.3" stroke-linejoin="round" transform="translate(1410.81 1329.75) rotate(-90)">0.512</text>
<rect x="1434.18" y="1329.25" width="19" height="334.85" fill="#fdae6b"/>
<text font-size="16.9" text-anchor="start" fill="#ffffff" stroke="#ffffff" stroke-width="0.3" stroke-linejoin="round" transform="translate(1449.33 1657.7) rotate(-90)">Precision</text>
<text font-size="16.9" text-anchor="end" fill="#ffffff" stroke="#ffffff" stroke-width="0.3" stroke-linejoin="round" transform="translate(1449.33 1339.85) rotate(-90)">0.497</text>
<rect x="1453.98" y="1313.08" width="16.4" height="351.02" fill="#fd8d3c"/>
<text font-size="16.9" text-anchor="start" fill="#ffffff" stroke="#ffffff" stroke-width="0.3" stroke-linejoin="round" transform="translate(1466.08 1657.7) rotate(-90)">Recall</text>
<text font-size="16.9" text-anchor="end" fill="#ffffff" stroke="#ffffff" stroke-width="0.3" stroke-linejoin="round" transform="translate(1466.08 1323.68) rotate(-90)">0.521</text>
<rect x="1470.78" y="1321.84" width="17.3" height="342.26" fill="#e6550d"/>
<text font-size="16.9" text-anchor="start" fill="#ffffff" stroke="#ffffff" stroke-width="0.3" stroke-linejoin="round" transform="translate(1484.28 1657.7) rotate(-90)">F1-score</text>
<text font-size="16.9" text-anchor="end" fill="#ffffff" stroke="#ffffff" stroke-width="0.3" stroke-linejoin="round" transform="translate(1484.28 1332.44) rotate(-90)">0.508</text>
<rect x="1507.65" y="1451.2" width="19" height="212.9" fill="#a1d99b"/>
<text font-size="16.9" text-anchor="start" fill="#ffffff" stroke="#ffffff" stroke-width="0.3" stroke-linejoin="round" transform="translate(1522.8 1657.7) rotate(-90)">Precision</text>
<text font-size="16.9" text-anchor="end" fill="#ffffff" stroke="#ffffff" stroke-width="0.3" stroke-linejoin="round" transform="translate(1522.8 1461.8) rotate(-90)">0.316</text>
<rect x="1527.45" y="1369.68" width="16.4" height="294.42" fill="#74c476"/>
<text font-size="16.9" text-anchor="start" fill="#ffffff" stroke="#ffffff" stroke-width="0.3" stroke-linejoin="round" transform="translate(1539.55 1657.7) rotate(-90)">Recall</text>
<text font-size="16.9" text-anchor="end" fill="#ffffff" stroke="#ffffff" stroke-width="0.3" stroke-linejoin="round" transform="translate(1539.55 1380.28) rotate(-90)">0.437</text>
<rect x="1544.25" y="1416.84" width="17.3" height="247.26" fill="#31a354"/>
<text font-size="16.9" text-anchor="start" fill="#ffffff" stroke="#ffffff" stroke-width="0.3" stroke-linejoin="round" transform="translate(1557.75 1657.7) rotate(-90)">F1-score</text>
<text font-size="16.9" text-anchor="end" fill="#ffffff" stroke="#ffffff" stroke-width="0.3" stroke-linejoin="round" transform="translate(1557.75 1427.44) rotate(-90)">0.367</text>
<rect x="1581.12" y="1310.39" width="19" height="353.71" fill="#9ecae1"/>
<text font-size="16.9" text-anchor="start" fill="#ffffff" stroke="#ffffff" stroke-width="0.3" stroke-linejoin="round" transform="translate(1596.27 1657.7) rotate(-90)">Precision</text>
<text font-size="16.9" text-anchor="end" fill="#ffffff" stroke="#ffffff" stroke-width="0.3" stroke-linejoin="round" transform="translate(1596.27 1320.99) rotate(-90)">0.525</text>
<rect x="1600.92" y="1400.67" width="16.4" height="263.43" fill="#6baed6"/>
<text font-size="16.9" text-anchor="start" fill="#ffffff" stroke="#ffffff" stroke-width="0.3" stroke-linejoin="round" transform="translate(1613.02 1657.7) rotate(-90)">Recall</text>
<text font-size="16.9" text-anchor="end" fill="#ffffff" stroke="#ffffff" stroke-width="0.3" stroke-linejoin="round" transform="translate(1613.02 1411.27) rotate(-90)">0.391</text>
<rect x="1617.72" y="1362.27" width="17.3" height="301.83" fill="#3182bd"/>
<text font-size="16.9" text-anchor="start" fill="#ffffff" stroke="#ffffff" stroke-width="0.3" stroke-linejoin="round" transform="translate(1631.22 1657.7) rotate(-90)">F1-score</text>
<text font-size="16.9" text-anchor="end" fill="#ffffff" stroke="#ffffff" stroke-width="0.3" stroke-linejoin="round" transform="translate(1631.22 1372.87) rotate(-90)">0.448</text>
<rect x="1654.59" y="1346.77" width="19" height="317.33" fill="#fdae6b"/>
<text font-size="16.9" text-anchor="start" fill="#ffffff" stroke="#ffffff" stroke-width="0.3" stroke-linejoin="round" transform="translate(1669.74 1657.7) rotate(-90)">Precision</text>
<text font-size="16.9" text-anchor="end" fill="#ffffff" stroke="#ffffff" stroke-width="0.3" stroke-linejoin="round" transform="translate(1669.74 1357.37) rotate(-90)">0.471</text>
<rect x="1674.39" y="1381.13" width="16.4" height="282.97" fill="#fd8d3c"/>
<text font-size="16.9" text-anchor="start" fill="#ffffff" stroke="#ffffff" stroke-width="0.3" stroke-linejoin="round" transform="translate(1686.49 1657.7) rotate(-90)">Recall</text>
<text font-size="16.9" text-anchor="end" fill="#ffffff" stroke="#ffffff" stroke-width="0.3" stroke-linejoin="round" transform="translate(1686.49 1391.73) rotate(-90)">0.420</text>
<rect x="1691.19" y="1364.96" width="17.3" height="299.14" fill="#e6550d"/>
<text font-size="16.9" text-anchor="start" fill="#ffffff" stroke="#ffffff" stroke-width="0.3" stroke-linejoin="round" transform="translate(1704.69 1657.7) rotate(-90)">F1-score</text>
<text font-size="16.9" text-anchor="end" fill="#ffffff" stroke="#ffffff" stroke-width="0.3" stroke-linejoin="round" transform="translate(1704.69 1375.56) rotate(-90)">0.444</text>
<rect x="1728.06" y="1475.45" width="19" height="188.65" fill="#a1d99b"/>
<text font-size="16.9" text-anchor="start" fill="#ffffff" stroke="#ffffff" stroke-width="0.3" stroke-linejoin="round" transform="translate(1743.21 1657.7) rotate(-90)">Precision</text>
<text font-size="16.9" text-anchor="end" fill="#ffffff" stroke="#ffffff" stroke-width="0.3" stroke-linejoin="round" transform="translate(1743.21 1486.05) rotate(-90)">0.280</text>
<rect x="1747.86" y="1404.04" width="16.4" height="260.06" fill="#74c476"/>
<text font-size="16.9" text-anchor="start" fill="#ffffff" stroke="#ffffff" stroke-width="0.3" stroke-linejoin="round" transform="translate(1759.96 1657.7) rotate(-90)">Recall</text>
<text font-size="16.9" text-anchor="end" fill="#ffffff" stroke="#ffffff" stroke-width="0.3" stroke-linejoin="round" transform="translate(1759.96 1414.64) rotate(-90)">0.386</text>
<rect x="1764.66" y="1445.14" width="17.3" height="218.96" fill="#31a354"/>
<text font-size="16.9" text-anchor="start" fill="#ffffff" stroke="#ffffff" stroke-width="0.3" stroke-linejoin="round" transform="translate(1778.16 1657.7) rotate(-90)">F1-score</text>
<text font-size="16.9" text-anchor="end" fill="#ffffff" stroke="#ffffff" stroke-width="0.3" stroke-linejoin="round" transform="translate(1778.16 1455.74) rotate(-90)">0.325</text>
<line x1="1133.3" y1="1587.8" x2="1133.3" y2="1664.1" stroke="#1a1a1a" stroke-width="1.5"/>
<line x1="1350.4" y1="1587.8" x2="1350.4" y2="1664.1" stroke="#1a1a1a" stroke-width="1.5"/>
<line x1="1570.7" y1="1587.8" x2="1570.7" y2="1664.1" stroke="#1a1a1a" stroke-width="1.5"/>
<line x1="1790.8" y1="1587.8" x2="1790.8" y2="1664.1" stroke="#1a1a1a" stroke-width="1.5"/>
<text font-size="15.3" text-anchor="middle" fill="#202020" stroke="#202020" stroke-width="0.3" stroke-linejoin="round" transform="translate(1241.8 1678.9)">T75x</text>
<text font-size="15.3" text-anchor="middle" fill="#202020" stroke="#202020" stroke-width="0.3" stroke-linejoin="round" transform="translate(1462 1678.9)">T50x</text>
<text font-size="15.3" text-anchor="middle" fill="#202020" stroke="#202020" stroke-width="0.3" stroke-linejoin="round" transform="translate(1682.2 1678.9)">T25x</text>
<rect x="1109.8" y="1158.8" width="704.6" height="505.3" fill="none" stroke="#262626" stroke-width="1.6"/>
<text font-size="15.7" text-anchor="end" fill="#202020" stroke="#202020" stroke-width="0.3" stroke-linejoin="round" transform="translate(1106.5 1670.1) scale(1 1.05)">0.0</text>
<text font-size="15.7" text-anchor="end" fill="#202020" stroke="#202020" stroke-width="0.3" stroke-linejoin="round" transform="translate(1106.5 1602.73) scale(1 1.05)">0.1</text>
<text font-size="15.7" text-anchor="end" fill="#202020" stroke="#202020" stroke-width="0.3" stroke-linejoin="round" transform="translate(1106.5 1535.35) scale(1 1.05)">0.2</text>
<text font-size="15.7" text-anchor="end" fill="#202020" stroke="#202020" stroke-width="0.3" stroke-linejoin="round" transform="translate(1106.5 1467.98) scale(1 1.05)">0.3</text>
<text font-size="15.7" text-anchor="end" fill="#202020" stroke="#202020" stroke-width="0.3" stroke-linejoin="round" transform="translate(1106.5 1400.61) scale(1 1.05)">0.4</text>
<text font-size="15.7" text-anchor="end" fill="#202020" stroke="#202020" stroke-width="0.3" stroke-linejoin="round" transform="translate(1106.5 1333.23) scale(1 1.05)">0.5</text>
<text font-size="15.7" text-anchor="end" fill="#202020" stroke="#202020" stroke-width="0.3" stroke-linejoin="round" transform="translate(1106.5 1265.86) scale(1 1.05)">0.6</text>
<text font-size="15.7" text-anchor="end" fill="#202020" stroke="#202020" stroke-width="0.3" stroke-linejoin="round" transform="translate(1106.5 1198.49) scale(1 1.05)">0.7</text>
<text font-size="19.2" text-anchor="middle" fill="#202020" stroke="#202020" stroke-width="0.3" stroke-linejoin="round" transform="translate(1462.1 1148.1)">Indel performance on ONT HCC1395</text>
<text font-size="17" text-anchor="middle" fill="#202020" stroke="#202020" stroke-width="0.3" stroke-linejoin="round" transform="translate(1071.6 1411.75) rotate(-90)">Values</text>
<text font-size="45.5" text-anchor="start" fill="#000000" font-weight="bold" transform="translate(-2 24) scale(0.93 1)">a</text>
<text font-size="43.5" text-anchor="start" fill="#000000" font-weight="bold" transform="translate(-2 1148.8) scale(1.04 1)">b</text>
<rect x="675.8" y="1729.3" width="49" height="20.2" fill="#9ecae1"/>
<text font-size="22.05" text-anchor="start" fill="#202020" stroke="#202020" stroke-width="0.3" stroke-linejoin="round" transform="translate(740.2 1746.8)">ClairS-TO SS</text>
<rect x="914.8" y="1729.3" width="49" height="20.2" fill="#fdae6b"/>
<text font-size="22.05" text-anchor="start" fill="#202020" stroke="#202020" stroke-width="0.3" stroke-linejoin="round" transform="translate(979.2 1746.8)">ClairS-TO SSRS</text>
<rect x="1184.3" y="1729.3" width="49" height="20.2" fill="#a1d99b"/>
<text font-size="22.05" text-anchor="start" fill="#202020" stroke="#202020" stroke-width="0.3" stroke-linejoin="round" transform="translate(1248.7 1746.8)">Clair3</text>
</svg>
</body>
</html>
